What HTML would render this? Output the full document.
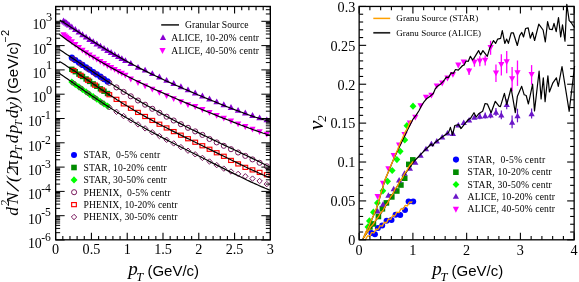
<!DOCTYPE html>
<html><head><meta charset="utf-8"><title>chart</title>
<style>html,body{margin:0;padding:0;background:#fff;}svg{display:block;position:absolute;left:0;top:0;}svg{will-change:transform;}text{fill:#000;}</style></head>
<body>
<svg width="579" height="282" viewBox="0 0 579 282">
<rect x="0" y="0" width="579" height="282" fill="#fff"/>
<polygon points="63.5,17.5 66.8,23.4 60.2,23.4" fill="#8A00D4"/>
<polygon points="65.0,18.5 68.3,24.4 61.7,24.4" fill="#8A00D4"/>
<polygon points="66.4,19.6 69.7,25.5 63.1,25.5" fill="#8A00D4"/>
<polygon points="67.8,20.6 71.1,26.5 64.5,26.5" fill="#8A00D4"/>
<polygon points="69.2,21.7 72.5,27.6 65.9,27.6" fill="#8A00D4"/>
<polygon points="71.8,23.5 75.1,29.4 68.5,29.4" fill="#8A00D4"/>
<polygon points="75.3,26.1 78.6,32.0 72.0,32.0" fill="#8A00D4"/>
<polygon points="78.9,28.7 82.2,34.6 75.6,34.6" fill="#8A00D4"/>
<polygon points="82.5,31.3 85.8,37.2 79.2,37.2" fill="#8A00D4"/>
<polygon points="86.1,33.7 89.4,39.6 82.8,39.6" fill="#8A00D4"/>
<polygon points="89.6,36.0 92.9,41.9 86.3,41.9" fill="#8A00D4"/>
<polygon points="93.2,38.2 96.5,44.1 89.9,44.1" fill="#8A00D4"/>
<polygon points="96.8,40.5 100.1,46.4 93.5,46.4" fill="#8A00D4"/>
<polygon points="100.4,42.7 103.7,48.6 97.1,48.6" fill="#8A00D4"/>
<polygon points="104.0,44.9 107.3,50.8 100.7,50.8" fill="#8A00D4"/>
<polygon points="107.5,47.0 110.8,52.9 104.2,52.9" fill="#8A00D4"/>
<polygon points="111.1,49.1 114.4,55.0 107.8,55.0" fill="#8A00D4"/>
<polygon points="114.7,51.2 118.0,57.1 111.4,57.1" fill="#8A00D4"/>
<polygon points="118.3,53.2 121.6,59.1 115.0,59.1" fill="#8A00D4"/>
<polygon points="121.8,55.2 125.1,61.1 118.5,61.1" fill="#8A00D4"/>
<polygon points="125.4,57.2 128.7,63.1 122.1,63.1" fill="#8A00D4"/>
<polygon points="130.8,60.1 134.1,66.0 127.5,66.0" fill="#8A00D4"/>
<polygon points="138.0,63.9 141.3,69.8 134.7,69.8" fill="#8A00D4"/>
<polygon points="145.1,66.7 148.4,72.6 141.8,72.6" fill="#8A00D4"/>
<polygon points="152.3,70.2 155.6,76.1 149.0,76.1" fill="#8A00D4"/>
<polygon points="159.4,73.6 162.7,79.5 156.1,79.5" fill="#8A00D4"/>
<polygon points="166.6,76.9 169.9,82.8 163.3,82.8" fill="#8A00D4"/>
<polygon points="173.7,80.1 177.0,86.0 170.4,86.0" fill="#8A00D4"/>
<polygon points="180.9,83.3 184.2,89.2 177.6,89.2" fill="#8A00D4"/>
<polygon points="188.0,86.4 191.3,92.3 184.7,92.3" fill="#8A00D4"/>
<polygon points="195.2,89.5 198.5,95.4 191.9,95.4" fill="#8A00D4"/>
<polygon points="202.4,92.5 205.7,98.4 199.1,98.4" fill="#8A00D4"/>
<polygon points="209.5,95.5 212.8,101.4 206.2,101.4" fill="#8A00D4"/>
<polygon points="216.7,98.4 220.0,104.3 213.4,104.3" fill="#8A00D4"/>
<polygon points="223.8,101.3 227.1,107.2 220.5,107.2" fill="#8A00D4"/>
<polygon points="231.0,104.1 234.3,110.0 227.7,110.0" fill="#8A00D4"/>
<polygon points="238.1,106.9 241.4,112.8 234.8,112.8" fill="#8A00D4"/>
<polygon points="245.3,109.5 248.6,115.4 242.0,115.4" fill="#8A00D4"/>
<polygon points="252.5,112.0 255.8,117.9 249.2,117.9" fill="#8A00D4"/>
<polygon points="259.6,114.4 262.9,120.3 256.3,120.3" fill="#8A00D4"/>
<polygon points="266.8,116.4 270.1,122.3 263.5,122.3" fill="#8A00D4"/>
<polygon points="63.5,38.1 66.6,32.3 60.4,32.3" fill="#FF00FF"/>
<polygon points="65.0,39.3 68.1,33.5 61.9,33.5" fill="#FF00FF"/>
<polygon points="66.4,40.5 69.5,34.7 63.3,34.7" fill="#FF00FF"/>
<polygon points="67.8,41.7 70.9,35.9 64.7,35.9" fill="#FF00FF"/>
<polygon points="69.2,42.9 72.3,37.1 66.1,37.1" fill="#FF00FF"/>
<polygon points="71.8,45.0 74.9,39.2 68.7,39.2" fill="#FF00FF"/>
<polygon points="75.3,47.9 78.4,42.1 72.2,42.1" fill="#FF00FF"/>
<polygon points="78.9,50.7 82.0,44.9 75.8,44.9" fill="#FF00FF"/>
<polygon points="82.5,53.5 85.6,47.7 79.4,47.7" fill="#FF00FF"/>
<polygon points="86.1,56.0 89.2,50.2 83.0,50.2" fill="#FF00FF"/>
<polygon points="89.6,58.3 92.7,52.5 86.5,52.5" fill="#FF00FF"/>
<polygon points="93.2,60.5 96.3,54.7 90.1,54.7" fill="#FF00FF"/>
<polygon points="96.8,62.6 99.9,56.8 93.7,56.8" fill="#FF00FF"/>
<polygon points="100.4,64.8 103.5,59.0 97.3,59.0" fill="#FF00FF"/>
<polygon points="104.0,66.8 107.1,61.0 100.9,61.0" fill="#FF00FF"/>
<polygon points="107.5,68.9 110.6,63.1 104.4,63.1" fill="#FF00FF"/>
<polygon points="111.1,70.9 114.2,65.1 108.0,65.1" fill="#FF00FF"/>
<polygon points="114.7,72.8 117.8,67.0 111.6,67.0" fill="#FF00FF"/>
<polygon points="118.3,74.7 121.4,68.9 115.2,68.9" fill="#FF00FF"/>
<polygon points="121.8,76.6 124.9,70.8 118.7,70.8" fill="#FF00FF"/>
<polygon points="125.4,78.5 128.5,72.7 122.3,72.7" fill="#FF00FF"/>
<polygon points="130.8,82.4 133.9,76.6 127.7,76.6" fill="#FF00FF"/>
<polygon points="138.0,85.9 141.1,80.1 134.9,80.1" fill="#FF00FF"/>
<polygon points="145.1,89.3 148.2,83.5 142.0,83.5" fill="#FF00FF"/>
<polygon points="152.3,92.6 155.4,86.8 149.2,86.8" fill="#FF00FF"/>
<polygon points="159.4,95.8 162.5,90.0 156.3,90.0" fill="#FF00FF"/>
<polygon points="166.6,99.0 169.7,93.2 163.5,93.2" fill="#FF00FF"/>
<polygon points="173.7,102.1 176.8,96.3 170.6,96.3" fill="#FF00FF"/>
<polygon points="180.9,105.1 184.0,99.3 177.8,99.3" fill="#FF00FF"/>
<polygon points="188.0,108.1 191.1,102.3 184.9,102.3" fill="#FF00FF"/>
<polygon points="195.2,109.9 198.3,104.1 192.1,104.1" fill="#FF00FF"/>
<polygon points="202.4,112.9 205.5,107.1 199.3,107.1" fill="#FF00FF"/>
<polygon points="209.5,115.8 212.6,110.0 206.4,110.0" fill="#FF00FF"/>
<polygon points="216.7,118.7 219.8,112.9 213.6,112.9" fill="#FF00FF"/>
<polygon points="223.8,121.6 226.9,115.8 220.7,115.8" fill="#FF00FF"/>
<polygon points="231.0,124.4 234.1,118.6 227.9,118.6" fill="#FF00FF"/>
<polygon points="238.1,127.2 241.2,121.4 235.0,121.4" fill="#FF00FF"/>
<polygon points="245.3,129.9 248.4,124.1 242.2,124.1" fill="#FF00FF"/>
<polygon points="252.5,132.5 255.6,126.7 249.4,126.7" fill="#FF00FF"/>
<polygon points="259.6,135.1 262.7,129.3 256.5,129.3" fill="#FF00FF"/>
<polygon points="266.8,137.5 269.9,131.7 263.7,131.7" fill="#FF00FF"/>
<circle cx="71.8" cy="57.7" r="3.1" fill="#0000FF"/>
<circle cx="75.3" cy="60.1" r="3.1" fill="#0000FF"/>
<circle cx="78.9" cy="62.5" r="3.1" fill="#0000FF"/>
<circle cx="82.5" cy="64.9" r="3.1" fill="#0000FF"/>
<circle cx="86.1" cy="67.3" r="3.1" fill="#0000FF"/>
<circle cx="89.6" cy="69.6" r="3.1" fill="#0000FF"/>
<circle cx="93.2" cy="72.0" r="3.1" fill="#0000FF"/>
<circle cx="96.8" cy="74.4" r="3.1" fill="#0000FF"/>
<circle cx="100.4" cy="76.7" r="3.1" fill="#0000FF"/>
<circle cx="104.0" cy="79.1" r="3.1" fill="#0000FF"/>
<circle cx="107.5" cy="81.4" r="3.1" fill="#0000FF"/>
<rect x="69.1" y="66.6" width="5.4" height="5.4" fill="#008B00"/>
<rect x="72.6" y="69.0" width="5.4" height="5.4" fill="#008B00"/>
<rect x="76.2" y="71.4" width="5.4" height="5.4" fill="#008B00"/>
<rect x="79.8" y="73.8" width="5.4" height="5.4" fill="#008B00"/>
<rect x="83.4" y="76.3" width="5.4" height="5.4" fill="#008B00"/>
<rect x="86.9" y="78.7" width="5.4" height="5.4" fill="#008B00"/>
<rect x="90.5" y="81.2" width="5.4" height="5.4" fill="#008B00"/>
<rect x="94.1" y="83.6" width="5.4" height="5.4" fill="#008B00"/>
<rect x="97.7" y="86.1" width="5.4" height="5.4" fill="#008B00"/>
<rect x="101.3" y="88.5" width="5.4" height="5.4" fill="#008B00"/>
<rect x="104.8" y="90.8" width="5.4" height="5.4" fill="#008B00"/>
<polygon points="71.8,78.4 75.2,82.0 71.8,85.6 68.4,82.0" fill="#00FF00"/>
<polygon points="75.3,80.9 78.7,84.5 75.3,88.1 71.9,84.5" fill="#00FF00"/>
<polygon points="78.9,83.3 82.3,86.9 78.9,90.5 75.5,86.9" fill="#00FF00"/>
<polygon points="82.5,85.8 85.9,89.4 82.5,93.0 79.1,89.4" fill="#00FF00"/>
<polygon points="86.1,88.3 89.5,91.9 86.1,95.5 82.7,91.9" fill="#00FF00"/>
<polygon points="89.6,90.7 93.0,94.3 89.6,97.9 86.2,94.3" fill="#00FF00"/>
<polygon points="93.2,93.1 96.6,96.7 93.2,100.3 89.8,96.7" fill="#00FF00"/>
<polygon points="96.8,95.5 100.2,99.1 96.8,102.7 93.4,99.1" fill="#00FF00"/>
<polygon points="100.4,97.9 103.8,101.5 100.4,105.1 97.0,101.5" fill="#00FF00"/>
<polygon points="104.0,100.2 107.4,103.8 104.0,107.4 100.6,103.8" fill="#00FF00"/>
<polygon points="107.5,102.5 110.9,106.1 107.5,109.7 104.1,106.1" fill="#00FF00"/>
<circle cx="73.5" cy="59.2" r="2.55" fill="none" stroke="#7A1A5E" stroke-width="1.0"/>
<circle cx="80.7" cy="64.0" r="2.55" fill="none" stroke="#7A1A5E" stroke-width="1.0"/>
<circle cx="87.9" cy="68.8" r="2.55" fill="none" stroke="#7A1A5E" stroke-width="1.0"/>
<circle cx="95.0" cy="73.5" r="2.55" fill="none" stroke="#7A1A5E" stroke-width="1.0"/>
<circle cx="102.2" cy="78.2" r="2.55" fill="none" stroke="#7A1A5E" stroke-width="1.0"/>
<circle cx="109.3" cy="82.8" r="2.55" fill="none" stroke="#7A1A5E" stroke-width="1.0"/>
<circle cx="116.5" cy="87.4" r="2.55" fill="none" stroke="#7A1A5E" stroke-width="1.0"/>
<circle cx="123.6" cy="91.9" r="2.55" fill="none" stroke="#7A1A5E" stroke-width="1.0"/>
<circle cx="130.8" cy="96.3" r="2.55" fill="none" stroke="#7A1A5E" stroke-width="1.0"/>
<circle cx="138.0" cy="100.5" r="2.55" fill="none" stroke="#7A1A5E" stroke-width="1.0"/>
<circle cx="145.1" cy="104.7" r="2.55" fill="none" stroke="#7A1A5E" stroke-width="1.0"/>
<circle cx="152.3" cy="108.8" r="2.55" fill="none" stroke="#7A1A5E" stroke-width="1.0"/>
<circle cx="159.4" cy="112.8" r="2.55" fill="none" stroke="#7A1A5E" stroke-width="1.0"/>
<circle cx="166.6" cy="116.7" r="2.55" fill="none" stroke="#7A1A5E" stroke-width="1.0"/>
<circle cx="173.7" cy="120.5" r="2.55" fill="none" stroke="#7A1A5E" stroke-width="1.0"/>
<circle cx="180.9" cy="124.2" r="2.55" fill="none" stroke="#7A1A5E" stroke-width="1.0"/>
<circle cx="188.0" cy="127.8" r="2.55" fill="none" stroke="#7A1A5E" stroke-width="1.0"/>
<circle cx="195.2" cy="131.4" r="2.55" fill="none" stroke="#7A1A5E" stroke-width="1.0"/>
<circle cx="202.4" cy="134.9" r="2.55" fill="none" stroke="#7A1A5E" stroke-width="1.0"/>
<circle cx="209.5" cy="139.0" r="2.55" fill="none" stroke="#7A1A5E" stroke-width="1.0"/>
<circle cx="216.7" cy="142.4" r="2.55" fill="none" stroke="#7A1A5E" stroke-width="1.0"/>
<circle cx="223.8" cy="145.8" r="2.55" fill="none" stroke="#7A1A5E" stroke-width="1.0"/>
<circle cx="231.0" cy="149.2" r="2.55" fill="none" stroke="#7A1A5E" stroke-width="1.0"/>
<circle cx="238.1" cy="152.5" r="2.55" fill="none" stroke="#7A1A5E" stroke-width="1.0"/>
<circle cx="245.3" cy="155.9" r="2.55" fill="none" stroke="#7A1A5E" stroke-width="1.0"/>
<circle cx="252.5" cy="159.4" r="2.55" fill="none" stroke="#7A1A5E" stroke-width="1.0"/>
<circle cx="259.6" cy="162.8" r="2.55" fill="none" stroke="#7A1A5E" stroke-width="1.0"/>
<circle cx="266.8" cy="166.3" r="2.55" fill="none" stroke="#7A1A5E" stroke-width="1.0"/>
<rect x="71.19" y="68.42" width="4.7" height="4.1" fill="none" stroke="#FF0000" stroke-width="1.15"/>
<rect x="78.35" y="73.26" width="4.7" height="4.1" fill="none" stroke="#FF0000" stroke-width="1.15"/>
<rect x="85.51" y="78.16" width="4.7" height="4.1" fill="none" stroke="#FF0000" stroke-width="1.15"/>
<rect x="92.66" y="83.07" width="4.7" height="4.1" fill="none" stroke="#FF0000" stroke-width="1.15"/>
<rect x="99.82" y="87.91" width="4.7" height="4.1" fill="none" stroke="#FF0000" stroke-width="1.15"/>
<rect x="106.98" y="92.67" width="4.7" height="4.1" fill="none" stroke="#FF0000" stroke-width="1.15"/>
<rect x="114.13" y="97.31" width="4.7" height="4.1" fill="none" stroke="#FF0000" stroke-width="1.15"/>
<rect x="121.29" y="101.81" width="4.7" height="4.1" fill="none" stroke="#FF0000" stroke-width="1.15"/>
<rect x="128.45" y="106.17" width="4.7" height="4.1" fill="none" stroke="#FF0000" stroke-width="1.15"/>
<rect x="135.60" y="110.37" width="4.7" height="4.1" fill="none" stroke="#FF0000" stroke-width="1.15"/>
<rect x="142.76" y="114.44" width="4.7" height="4.1" fill="none" stroke="#FF0000" stroke-width="1.15"/>
<rect x="149.92" y="118.38" width="4.7" height="4.1" fill="none" stroke="#FF0000" stroke-width="1.15"/>
<rect x="157.07" y="122.19" width="4.7" height="4.1" fill="none" stroke="#FF0000" stroke-width="1.15"/>
<rect x="164.23" y="125.91" width="4.7" height="4.1" fill="none" stroke="#FF0000" stroke-width="1.15"/>
<rect x="171.39" y="129.55" width="4.7" height="4.1" fill="none" stroke="#FF0000" stroke-width="1.15"/>
<rect x="178.54" y="133.13" width="4.7" height="4.1" fill="none" stroke="#FF0000" stroke-width="1.15"/>
<rect x="185.70" y="136.67" width="4.7" height="4.1" fill="none" stroke="#FF0000" stroke-width="1.15"/>
<rect x="192.86" y="140.19" width="4.7" height="4.1" fill="none" stroke="#FF0000" stroke-width="1.15"/>
<rect x="200.01" y="143.70" width="4.7" height="4.1" fill="none" stroke="#FF0000" stroke-width="1.15"/>
<rect x="207.17" y="147.21" width="4.7" height="4.1" fill="none" stroke="#FF0000" stroke-width="1.15"/>
<rect x="214.33" y="150.72" width="4.7" height="4.1" fill="none" stroke="#FF0000" stroke-width="1.15"/>
<rect x="221.48" y="154.25" width="4.7" height="4.1" fill="none" stroke="#FF0000" stroke-width="1.15"/>
<rect x="228.64" y="158.37" width="4.7" height="4.1" fill="none" stroke="#FF0000" stroke-width="1.15"/>
<rect x="235.80" y="161.87" width="4.7" height="4.1" fill="none" stroke="#FF0000" stroke-width="1.15"/>
<rect x="242.95" y="165.32" width="4.7" height="4.1" fill="none" stroke="#FF0000" stroke-width="1.15"/>
<rect x="250.11" y="167.85" width="4.7" height="4.1" fill="none" stroke="#FF0000" stroke-width="1.15"/>
<rect x="257.26" y="170.36" width="4.7" height="4.1" fill="none" stroke="#FF0000" stroke-width="1.15"/>
<rect x="264.42" y="172.67" width="4.7" height="4.1" fill="none" stroke="#FF0000" stroke-width="1.15"/>
<polygon points="73.5,80.5 76.2,83.2 73.5,85.9 70.8,83.2" fill="none" stroke="#7A1A5E" stroke-width="1.0"/>
<polygon points="80.7,85.5 83.4,88.2 80.7,90.9 78.0,88.2" fill="none" stroke="#7A1A5E" stroke-width="1.0"/>
<polygon points="87.9,90.4 90.6,93.1 87.9,95.8 85.2,93.1" fill="none" stroke="#7A1A5E" stroke-width="1.0"/>
<polygon points="95.0,95.2 97.7,97.9 95.0,100.6 92.3,97.9" fill="none" stroke="#7A1A5E" stroke-width="1.0"/>
<polygon points="102.2,100.0 104.9,102.7 102.2,105.4 99.5,102.7" fill="none" stroke="#7A1A5E" stroke-width="1.0"/>
<polygon points="109.3,104.6 112.0,107.3 109.3,110.0 106.6,107.3" fill="none" stroke="#7A1A5E" stroke-width="1.0"/>
<polygon points="116.5,109.1 119.2,111.8 116.5,114.5 113.8,111.8" fill="none" stroke="#7A1A5E" stroke-width="1.0"/>
<polygon points="123.6,113.4 126.3,116.1 123.6,118.8 120.9,116.1" fill="none" stroke="#7A1A5E" stroke-width="1.0"/>
<polygon points="130.8,117.6 133.5,120.3 130.8,123.0 128.1,120.3" fill="none" stroke="#7A1A5E" stroke-width="1.0"/>
<polygon points="138.0,121.7 140.7,124.4 138.0,127.1 135.3,124.4" fill="none" stroke="#7A1A5E" stroke-width="1.0"/>
<polygon points="145.1,125.7 147.8,128.4 145.1,131.1 142.4,128.4" fill="none" stroke="#7A1A5E" stroke-width="1.0"/>
<polygon points="152.3,129.6 155.0,132.3 152.3,135.0 149.6,132.3" fill="none" stroke="#7A1A5E" stroke-width="1.0"/>
<polygon points="159.4,133.3 162.1,136.0 159.4,138.7 156.7,136.0" fill="none" stroke="#7A1A5E" stroke-width="1.0"/>
<polygon points="166.6,137.1 169.3,139.8 166.6,142.5 163.9,139.8" fill="none" stroke="#7A1A5E" stroke-width="1.0"/>
<polygon points="173.7,140.7 176.4,143.4 173.7,146.1 171.0,143.4" fill="none" stroke="#7A1A5E" stroke-width="1.0"/>
<polygon points="180.9,144.4 183.6,147.1 180.9,149.8 178.2,147.1" fill="none" stroke="#7A1A5E" stroke-width="1.0"/>
<polygon points="188.0,148.0 190.7,150.7 188.0,153.4 185.3,150.7" fill="none" stroke="#7A1A5E" stroke-width="1.0"/>
<polygon points="195.2,151.6 197.9,154.3 195.2,157.0 192.5,154.3" fill="none" stroke="#7A1A5E" stroke-width="1.0"/>
<polygon points="202.4,155.2 205.1,157.9 202.4,160.6 199.7,157.9" fill="none" stroke="#7A1A5E" stroke-width="1.0"/>
<polygon points="209.5,158.8 212.2,161.5 209.5,164.2 206.8,161.5" fill="none" stroke="#7A1A5E" stroke-width="1.0"/>
<polygon points="216.7,162.4 219.4,165.1 216.7,167.8 214.0,165.1" fill="none" stroke="#7A1A5E" stroke-width="1.0"/>
<polygon points="223.8,165.9 226.5,168.6 223.8,171.3 221.1,168.6" fill="none" stroke="#7A1A5E" stroke-width="1.0"/>
<polygon points="231.0,168.8 233.7,171.5 231.0,174.2 228.3,171.5" fill="none" stroke="#7A1A5E" stroke-width="1.0"/>
<polygon points="238.1,171.2 240.8,173.9 238.1,176.6 235.4,173.9" fill="none" stroke="#7A1A5E" stroke-width="1.0"/>
<polygon points="245.3,173.6 248.0,176.3 245.3,179.0 242.6,176.3" fill="none" stroke="#7A1A5E" stroke-width="1.0"/>
<polygon points="252.5,175.9 255.2,178.6 252.5,181.3 249.8,178.6" fill="none" stroke="#7A1A5E" stroke-width="1.0"/>
<polygon points="259.6,178.3 262.3,181.0 259.6,183.7 256.9,181.0" fill="none" stroke="#7A1A5E" stroke-width="1.0"/>
<polygon points="266.8,181.4 269.5,184.1 266.8,186.8 264.1,184.1" fill="none" stroke="#7A1A5E" stroke-width="1.0"/>
<polyline points="59.7,19.9 61.7,21.2 63.7,22.5 65.7,23.8 67.7,25.1 69.7,26.4 71.7,27.7 73.7,29.0 75.7,30.3 77.7,31.6 79.7,32.9 81.7,34.2 83.7,35.5 85.7,36.8 87.7,38.1 89.7,39.4 91.7,40.6 93.7,41.9 95.7,43.1 97.7,44.4 99.7,45.6 101.7,46.8 103.7,48.0 105.7,49.2 107.7,50.4 109.7,51.6 111.7,52.8 113.7,54.0 115.7,55.1 117.7,56.3 119.7,57.4 121.7,58.5 123.7,59.6 125.7,60.7 127.7,61.8 129.7,62.9 131.7,63.9 133.7,65.0 135.7,66.0 137.7,67.1 139.7,68.1 141.7,69.1 143.7,70.1 145.7,71.1 147.7,72.1 149.7,73.1 151.7,74.1 153.7,75.0 155.7,76.0 157.7,76.9 159.7,77.9 161.7,78.8 163.7,79.7 165.7,80.7 167.7,81.6 169.7,82.5 171.7,83.4 173.7,84.3 175.7,85.2 177.7,86.0 179.7,86.9 181.7,87.8 183.7,88.7 185.7,89.5 187.7,90.4 189.7,91.3 191.7,92.1 193.7,93.0 195.7,93.8 197.7,94.7 199.7,95.5 201.7,96.3 203.7,97.2 205.7,98.0 207.7,98.9 209.7,99.7 211.7,100.5 213.7,101.3 215.7,102.1 217.7,103.0 219.7,103.8 221.7,104.6 223.7,105.4 225.7,106.2 227.7,107.0 229.7,107.8 231.7,108.5 233.7,109.3 235.7,110.1 237.7,110.8 239.7,111.6 241.7,112.3 243.7,113.1 245.7,113.8 247.7,114.5 249.7,115.2 251.7,115.9 253.7,116.6 255.7,117.3 257.7,117.9 259.7,118.5 261.7,119.1 263.7,119.7 265.7,120.3 267.7,120.9 269.7,121.4 270.2,121.5" fill="none" stroke="#000" stroke-width="1.2" stroke-linejoin="round" stroke-linecap="butt"/>
<polyline points="59.3,34.3 61.3,35.8 63.3,37.3 65.3,38.7 67.3,40.2 69.3,41.6 71.3,43.0 73.3,44.4 75.3,45.7 77.3,47.1 79.3,48.4 81.3,49.7 83.3,51.0 85.3,52.3 87.3,53.6 89.3,54.9 91.3,56.1 93.3,57.3 95.3,58.5 97.3,59.7 99.3,60.9 101.3,62.1 103.3,63.3 105.3,64.4 107.3,65.5 109.3,66.7 111.3,67.8 113.3,68.9 115.3,69.9 117.3,71.0 119.3,72.1 121.3,73.1 123.3,74.2 125.3,75.2 127.3,76.2 129.3,77.2 131.3,78.2 133.3,79.2 135.3,80.2 137.3,81.2 139.3,82.1 141.3,83.1 143.3,84.0 145.3,85.0 147.3,85.9 149.3,86.8 151.3,87.8 153.3,88.7 155.3,89.6 157.3,90.5 159.3,91.4 161.3,92.3 163.3,93.1 165.3,94.0 167.3,94.9 169.3,95.8 171.3,96.6 173.3,97.5 175.3,98.3 177.3,99.2 179.3,100.1 181.3,100.9 183.3,101.7 185.3,102.6 187.3,103.4 189.3,104.3 191.3,105.1 193.3,105.9 195.3,106.8 197.3,107.6 199.3,108.4 201.3,109.2 203.3,110.1 205.3,110.9 207.3,111.7 209.3,112.5 211.3,113.3 213.3,114.1 215.3,114.9 217.3,115.7 219.3,116.6 221.3,117.4 223.3,118.2 225.3,118.9 227.3,119.7 229.3,120.5 231.3,121.3 233.3,122.1 235.3,122.9 237.3,123.7 239.3,124.4 241.3,125.2 243.3,125.9 245.3,126.7 247.3,127.4 249.3,128.2 251.3,128.9 253.3,129.7 255.3,130.4 257.3,131.1 259.3,131.8 261.3,132.5 263.3,133.2 265.3,133.8 267.3,134.5 269.3,135.1 270.2,135.4" fill="none" stroke="#000" stroke-width="1.2" stroke-linejoin="round" stroke-linecap="butt"/>
<polyline points="59.3,49.5 61.3,50.8 63.3,52.1 65.3,53.4 67.3,54.8 69.3,56.1 71.3,57.4 73.3,58.8 75.3,60.1 77.3,61.4 79.3,62.8 81.3,64.1 83.3,65.4 85.3,66.8 87.3,68.1 89.3,69.4 91.3,70.7 93.3,72.1 95.3,73.4 97.3,74.7 99.3,76.0 101.3,77.3 103.3,78.6 105.3,79.9 107.3,81.2 109.3,82.5 111.3,83.8 113.3,85.1 115.3,86.4 117.3,87.6 119.3,88.9 121.3,90.1 123.3,91.4 125.3,92.6 127.3,93.8 129.3,95.1 131.3,96.3 133.3,97.5 135.3,98.7 137.3,99.9 139.3,101.0 141.3,102.2 143.3,103.4 145.3,104.5 147.3,105.7 149.3,106.8 151.3,108.0 153.3,109.1 155.3,110.2 157.3,111.3 159.3,112.4 161.3,113.5 163.3,114.6 165.3,115.7 167.3,116.8 169.3,117.9 171.3,118.9 173.3,120.0 175.3,121.0 177.3,122.1 179.3,123.1 181.3,124.1 183.3,125.1 185.3,126.2 187.3,127.2 189.3,128.2 191.3,129.2 193.3,130.2 195.3,131.1 197.3,132.1 199.3,133.1 201.3,134.1 203.3,135.1 205.3,136.0 207.3,137.0 209.3,138.0 211.3,138.9 213.3,139.9 215.3,140.8 217.3,141.8 219.3,142.7 221.3,143.7 223.3,144.6 225.3,145.6 227.3,146.5 229.3,147.5 231.3,148.4 233.3,149.3 235.3,150.3 237.3,151.2 239.3,152.2 241.3,153.1 243.3,154.1 245.3,155.0 247.3,156.0 249.3,156.9 251.3,157.9 253.3,158.9 255.3,159.8 257.3,160.8 259.3,161.8 261.3,162.8 263.3,163.7 265.3,164.7 267.3,165.7 269.3,166.7 270.2,167.2" fill="none" stroke="#000" stroke-width="1.2" stroke-linejoin="round" stroke-linecap="butt"/>
<polyline points="59.3,61.4 61.3,62.6 63.3,63.8 65.3,65.1 67.3,66.4 69.3,67.7 71.3,69.0 73.3,70.3 75.3,71.6 77.3,73.0 79.3,74.4 81.3,75.7 83.3,77.1 85.3,78.5 87.3,79.8 89.3,81.2 91.3,82.6 93.3,83.9 95.3,85.3 97.3,86.7 99.3,88.0 101.3,89.4 103.3,90.7 105.3,92.1 107.3,93.4 109.3,94.7 111.3,96.0 113.3,97.3 115.3,98.6 117.3,99.9 119.3,101.1 121.3,102.4 123.3,103.7 125.3,104.9 127.3,106.1 129.3,107.3 131.3,108.5 133.3,109.7 135.3,110.9 137.3,112.0 139.3,113.2 141.3,114.3 143.3,115.5 145.3,116.6 147.3,117.7 149.3,118.8 151.3,119.9 153.3,121.0 155.3,122.1 157.3,123.1 159.3,124.2 161.3,125.2 163.3,126.3 165.3,127.3 167.3,128.3 169.3,129.4 171.3,130.4 173.3,131.4 175.3,132.4 177.3,133.4 179.3,134.4 181.3,135.4 183.3,136.4 185.3,137.4 187.3,138.4 189.3,139.3 191.3,140.3 193.3,141.3 195.3,142.3 197.3,143.3 199.3,144.2 201.3,145.2 203.3,146.2 205.3,147.2 207.3,148.2 209.3,149.1 211.3,150.1 213.3,151.1 215.3,152.1 217.3,153.1 219.3,154.1 221.3,155.1 223.3,156.0 225.3,157.0 227.3,158.0 229.3,159.0 231.3,160.0 233.3,161.0 235.3,161.9 237.3,162.9 239.3,163.9 241.3,164.9 243.3,165.8 245.3,166.8 247.3,167.7 249.3,168.7 251.3,169.6 253.3,170.5 255.3,171.4 257.3,172.3 259.3,173.2 261.3,174.1 263.3,175.0 265.3,175.8 267.3,176.6 269.3,177.4 270.2,177.8" fill="none" stroke="#000" stroke-width="1.2" stroke-linejoin="round" stroke-linecap="butt"/>
<polyline points="59.3,73.3 61.3,74.7 63.3,76.1 65.3,77.4 67.3,78.8 69.3,80.2 71.3,81.6 73.3,83.0 75.3,84.4 77.3,85.8 79.3,87.2 81.3,88.6 83.3,90.0 85.3,91.4 87.3,92.7 89.3,94.1 91.3,95.5 93.3,96.8 95.3,98.1 97.3,99.5 99.3,100.8 101.3,102.1 103.3,103.4 105.3,104.7 107.3,106.0 109.3,107.3 111.3,108.5 113.3,109.8 115.3,111.0 117.3,112.3 119.3,113.5 121.3,114.7 123.3,115.9 125.3,117.1 127.3,118.3 129.3,119.4 131.3,120.6 133.3,121.8 135.3,122.9 137.3,124.0 139.3,125.2 141.3,126.3 143.3,127.4 145.3,128.5 147.3,129.6 149.3,130.7 151.3,131.7 153.3,132.8 155.3,133.9 157.3,134.9 159.3,136.0 161.3,137.0 163.3,138.1 165.3,139.1 167.3,140.1 169.3,141.2 171.3,142.2 173.3,143.2 175.3,144.2 177.3,145.3 179.3,146.3 181.3,147.3 183.3,148.3 185.3,149.3 187.3,150.3 189.3,151.3 191.3,152.3 193.3,153.3 195.3,154.3 197.3,155.3 199.3,156.3 201.3,157.3 203.3,158.3 205.3,159.3 207.3,160.3 209.3,161.4 211.3,162.4 213.3,163.4 215.3,164.4 217.3,165.4 219.3,166.4 221.3,167.4 223.3,168.4 225.3,169.4 227.3,170.4 229.3,171.4 231.3,172.4 233.3,173.4 235.3,174.4 237.3,175.3 239.3,176.3 241.3,177.3 243.3,178.3 245.3,179.2 247.3,180.2 249.3,181.1 251.3,182.1 253.3,183.0 255.3,183.9 257.3,184.8 259.3,185.7 261.3,186.6 263.3,187.4 265.3,188.3 267.3,189.1 269.3,189.9 270.2,190.2" fill="none" stroke="#000" stroke-width="1.2" stroke-linejoin="round" stroke-linecap="butt"/>
<rect x="55.65" y="6.45" width="214.70" height="233.35" fill="none" stroke="#000" stroke-width="1.3"/>
<line x1="55.65" y1="239.80" x2="55.65" y2="232.80" stroke="#000" stroke-width="1.1"/>
<line x1="55.65" y1="6.45" x2="55.65" y2="13.45" stroke="#000" stroke-width="1.1"/>
<line x1="62.81" y1="239.80" x2="62.81" y2="236.00" stroke="#000" stroke-width="1.1"/>
<line x1="62.81" y1="6.45" x2="62.81" y2="10.25" stroke="#000" stroke-width="1.1"/>
<line x1="69.96" y1="239.80" x2="69.96" y2="236.00" stroke="#000" stroke-width="1.1"/>
<line x1="69.96" y1="6.45" x2="69.96" y2="10.25" stroke="#000" stroke-width="1.1"/>
<line x1="77.12" y1="239.80" x2="77.12" y2="236.00" stroke="#000" stroke-width="1.1"/>
<line x1="77.12" y1="6.45" x2="77.12" y2="10.25" stroke="#000" stroke-width="1.1"/>
<line x1="84.28" y1="239.80" x2="84.28" y2="236.00" stroke="#000" stroke-width="1.1"/>
<line x1="84.28" y1="6.45" x2="84.28" y2="10.25" stroke="#000" stroke-width="1.1"/>
<line x1="91.43" y1="239.80" x2="91.43" y2="232.80" stroke="#000" stroke-width="1.1"/>
<line x1="91.43" y1="6.45" x2="91.43" y2="13.45" stroke="#000" stroke-width="1.1"/>
<line x1="98.59" y1="239.80" x2="98.59" y2="236.00" stroke="#000" stroke-width="1.1"/>
<line x1="98.59" y1="6.45" x2="98.59" y2="10.25" stroke="#000" stroke-width="1.1"/>
<line x1="105.75" y1="239.80" x2="105.75" y2="236.00" stroke="#000" stroke-width="1.1"/>
<line x1="105.75" y1="6.45" x2="105.75" y2="10.25" stroke="#000" stroke-width="1.1"/>
<line x1="112.90" y1="239.80" x2="112.90" y2="236.00" stroke="#000" stroke-width="1.1"/>
<line x1="112.90" y1="6.45" x2="112.90" y2="10.25" stroke="#000" stroke-width="1.1"/>
<line x1="120.06" y1="239.80" x2="120.06" y2="236.00" stroke="#000" stroke-width="1.1"/>
<line x1="120.06" y1="6.45" x2="120.06" y2="10.25" stroke="#000" stroke-width="1.1"/>
<line x1="127.22" y1="239.80" x2="127.22" y2="232.80" stroke="#000" stroke-width="1.1"/>
<line x1="127.22" y1="6.45" x2="127.22" y2="13.45" stroke="#000" stroke-width="1.1"/>
<line x1="134.37" y1="239.80" x2="134.37" y2="236.00" stroke="#000" stroke-width="1.1"/>
<line x1="134.37" y1="6.45" x2="134.37" y2="10.25" stroke="#000" stroke-width="1.1"/>
<line x1="141.53" y1="239.80" x2="141.53" y2="236.00" stroke="#000" stroke-width="1.1"/>
<line x1="141.53" y1="6.45" x2="141.53" y2="10.25" stroke="#000" stroke-width="1.1"/>
<line x1="148.69" y1="239.80" x2="148.69" y2="236.00" stroke="#000" stroke-width="1.1"/>
<line x1="148.69" y1="6.45" x2="148.69" y2="10.25" stroke="#000" stroke-width="1.1"/>
<line x1="155.84" y1="239.80" x2="155.84" y2="236.00" stroke="#000" stroke-width="1.1"/>
<line x1="155.84" y1="6.45" x2="155.84" y2="10.25" stroke="#000" stroke-width="1.1"/>
<line x1="163.00" y1="239.80" x2="163.00" y2="232.80" stroke="#000" stroke-width="1.1"/>
<line x1="163.00" y1="6.45" x2="163.00" y2="13.45" stroke="#000" stroke-width="1.1"/>
<line x1="170.16" y1="239.80" x2="170.16" y2="236.00" stroke="#000" stroke-width="1.1"/>
<line x1="170.16" y1="6.45" x2="170.16" y2="10.25" stroke="#000" stroke-width="1.1"/>
<line x1="177.31" y1="239.80" x2="177.31" y2="236.00" stroke="#000" stroke-width="1.1"/>
<line x1="177.31" y1="6.45" x2="177.31" y2="10.25" stroke="#000" stroke-width="1.1"/>
<line x1="184.47" y1="239.80" x2="184.47" y2="236.00" stroke="#000" stroke-width="1.1"/>
<line x1="184.47" y1="6.45" x2="184.47" y2="10.25" stroke="#000" stroke-width="1.1"/>
<line x1="191.63" y1="239.80" x2="191.63" y2="236.00" stroke="#000" stroke-width="1.1"/>
<line x1="191.63" y1="6.45" x2="191.63" y2="10.25" stroke="#000" stroke-width="1.1"/>
<line x1="198.78" y1="239.80" x2="198.78" y2="232.80" stroke="#000" stroke-width="1.1"/>
<line x1="198.78" y1="6.45" x2="198.78" y2="13.45" stroke="#000" stroke-width="1.1"/>
<line x1="205.94" y1="239.80" x2="205.94" y2="236.00" stroke="#000" stroke-width="1.1"/>
<line x1="205.94" y1="6.45" x2="205.94" y2="10.25" stroke="#000" stroke-width="1.1"/>
<line x1="213.10" y1="239.80" x2="213.10" y2="236.00" stroke="#000" stroke-width="1.1"/>
<line x1="213.10" y1="6.45" x2="213.10" y2="10.25" stroke="#000" stroke-width="1.1"/>
<line x1="220.25" y1="239.80" x2="220.25" y2="236.00" stroke="#000" stroke-width="1.1"/>
<line x1="220.25" y1="6.45" x2="220.25" y2="10.25" stroke="#000" stroke-width="1.1"/>
<line x1="227.41" y1="239.80" x2="227.41" y2="236.00" stroke="#000" stroke-width="1.1"/>
<line x1="227.41" y1="6.45" x2="227.41" y2="10.25" stroke="#000" stroke-width="1.1"/>
<line x1="234.57" y1="239.80" x2="234.57" y2="232.80" stroke="#000" stroke-width="1.1"/>
<line x1="234.57" y1="6.45" x2="234.57" y2="13.45" stroke="#000" stroke-width="1.1"/>
<line x1="241.72" y1="239.80" x2="241.72" y2="236.00" stroke="#000" stroke-width="1.1"/>
<line x1="241.72" y1="6.45" x2="241.72" y2="10.25" stroke="#000" stroke-width="1.1"/>
<line x1="248.88" y1="239.80" x2="248.88" y2="236.00" stroke="#000" stroke-width="1.1"/>
<line x1="248.88" y1="6.45" x2="248.88" y2="10.25" stroke="#000" stroke-width="1.1"/>
<line x1="256.04" y1="239.80" x2="256.04" y2="236.00" stroke="#000" stroke-width="1.1"/>
<line x1="256.04" y1="6.45" x2="256.04" y2="10.25" stroke="#000" stroke-width="1.1"/>
<line x1="263.19" y1="239.80" x2="263.19" y2="236.00" stroke="#000" stroke-width="1.1"/>
<line x1="263.19" y1="6.45" x2="263.19" y2="10.25" stroke="#000" stroke-width="1.1"/>
<line x1="270.35" y1="239.80" x2="270.35" y2="232.80" stroke="#000" stroke-width="1.1"/>
<line x1="270.35" y1="6.45" x2="270.35" y2="13.45" stroke="#000" stroke-width="1.1"/>
<line x1="55.65" y1="240.00" x2="64.65" y2="240.00" stroke="#000" stroke-width="1.0"/>
<line x1="270.35" y1="240.00" x2="261.35" y2="240.00" stroke="#000" stroke-width="1.0"/>
<line x1="55.65" y1="232.68" x2="60.15" y2="232.68" stroke="#000" stroke-width="1.0"/>
<line x1="270.35" y1="232.68" x2="265.85" y2="232.68" stroke="#000" stroke-width="1.0"/>
<line x1="55.65" y1="228.41" x2="60.15" y2="228.41" stroke="#000" stroke-width="1.0"/>
<line x1="270.35" y1="228.41" x2="265.85" y2="228.41" stroke="#000" stroke-width="1.0"/>
<line x1="55.65" y1="225.37" x2="60.15" y2="225.37" stroke="#000" stroke-width="1.0"/>
<line x1="270.35" y1="225.37" x2="265.85" y2="225.37" stroke="#000" stroke-width="1.0"/>
<line x1="55.65" y1="223.02" x2="60.15" y2="223.02" stroke="#000" stroke-width="1.0"/>
<line x1="270.35" y1="223.02" x2="265.85" y2="223.02" stroke="#000" stroke-width="1.0"/>
<line x1="55.65" y1="221.09" x2="60.15" y2="221.09" stroke="#000" stroke-width="1.0"/>
<line x1="270.35" y1="221.09" x2="265.85" y2="221.09" stroke="#000" stroke-width="1.0"/>
<line x1="55.65" y1="219.46" x2="60.15" y2="219.46" stroke="#000" stroke-width="1.0"/>
<line x1="270.35" y1="219.46" x2="265.85" y2="219.46" stroke="#000" stroke-width="1.0"/>
<line x1="55.65" y1="218.05" x2="60.15" y2="218.05" stroke="#000" stroke-width="1.0"/>
<line x1="270.35" y1="218.05" x2="265.85" y2="218.05" stroke="#000" stroke-width="1.0"/>
<line x1="55.65" y1="216.81" x2="60.15" y2="216.81" stroke="#000" stroke-width="1.0"/>
<line x1="270.35" y1="216.81" x2="265.85" y2="216.81" stroke="#000" stroke-width="1.0"/>
<line x1="55.65" y1="215.70" x2="64.65" y2="215.70" stroke="#000" stroke-width="1.0"/>
<line x1="270.35" y1="215.70" x2="261.35" y2="215.70" stroke="#000" stroke-width="1.0"/>
<line x1="55.65" y1="208.38" x2="60.15" y2="208.38" stroke="#000" stroke-width="1.0"/>
<line x1="270.35" y1="208.38" x2="265.85" y2="208.38" stroke="#000" stroke-width="1.0"/>
<line x1="55.65" y1="204.11" x2="60.15" y2="204.11" stroke="#000" stroke-width="1.0"/>
<line x1="270.35" y1="204.11" x2="265.85" y2="204.11" stroke="#000" stroke-width="1.0"/>
<line x1="55.65" y1="201.07" x2="60.15" y2="201.07" stroke="#000" stroke-width="1.0"/>
<line x1="270.35" y1="201.07" x2="265.85" y2="201.07" stroke="#000" stroke-width="1.0"/>
<line x1="55.65" y1="198.72" x2="60.15" y2="198.72" stroke="#000" stroke-width="1.0"/>
<line x1="270.35" y1="198.72" x2="265.85" y2="198.72" stroke="#000" stroke-width="1.0"/>
<line x1="55.65" y1="196.79" x2="60.15" y2="196.79" stroke="#000" stroke-width="1.0"/>
<line x1="270.35" y1="196.79" x2="265.85" y2="196.79" stroke="#000" stroke-width="1.0"/>
<line x1="55.65" y1="195.16" x2="60.15" y2="195.16" stroke="#000" stroke-width="1.0"/>
<line x1="270.35" y1="195.16" x2="265.85" y2="195.16" stroke="#000" stroke-width="1.0"/>
<line x1="55.65" y1="193.75" x2="60.15" y2="193.75" stroke="#000" stroke-width="1.0"/>
<line x1="270.35" y1="193.75" x2="265.85" y2="193.75" stroke="#000" stroke-width="1.0"/>
<line x1="55.65" y1="192.51" x2="60.15" y2="192.51" stroke="#000" stroke-width="1.0"/>
<line x1="270.35" y1="192.51" x2="265.85" y2="192.51" stroke="#000" stroke-width="1.0"/>
<line x1="55.65" y1="191.40" x2="64.65" y2="191.40" stroke="#000" stroke-width="1.0"/>
<line x1="270.35" y1="191.40" x2="261.35" y2="191.40" stroke="#000" stroke-width="1.0"/>
<line x1="55.65" y1="184.08" x2="60.15" y2="184.08" stroke="#000" stroke-width="1.0"/>
<line x1="270.35" y1="184.08" x2="265.85" y2="184.08" stroke="#000" stroke-width="1.0"/>
<line x1="55.65" y1="179.81" x2="60.15" y2="179.81" stroke="#000" stroke-width="1.0"/>
<line x1="270.35" y1="179.81" x2="265.85" y2="179.81" stroke="#000" stroke-width="1.0"/>
<line x1="55.65" y1="176.77" x2="60.15" y2="176.77" stroke="#000" stroke-width="1.0"/>
<line x1="270.35" y1="176.77" x2="265.85" y2="176.77" stroke="#000" stroke-width="1.0"/>
<line x1="55.65" y1="174.42" x2="60.15" y2="174.42" stroke="#000" stroke-width="1.0"/>
<line x1="270.35" y1="174.42" x2="265.85" y2="174.42" stroke="#000" stroke-width="1.0"/>
<line x1="55.65" y1="172.49" x2="60.15" y2="172.49" stroke="#000" stroke-width="1.0"/>
<line x1="270.35" y1="172.49" x2="265.85" y2="172.49" stroke="#000" stroke-width="1.0"/>
<line x1="55.65" y1="170.86" x2="60.15" y2="170.86" stroke="#000" stroke-width="1.0"/>
<line x1="270.35" y1="170.86" x2="265.85" y2="170.86" stroke="#000" stroke-width="1.0"/>
<line x1="55.65" y1="169.45" x2="60.15" y2="169.45" stroke="#000" stroke-width="1.0"/>
<line x1="270.35" y1="169.45" x2="265.85" y2="169.45" stroke="#000" stroke-width="1.0"/>
<line x1="55.65" y1="168.21" x2="60.15" y2="168.21" stroke="#000" stroke-width="1.0"/>
<line x1="270.35" y1="168.21" x2="265.85" y2="168.21" stroke="#000" stroke-width="1.0"/>
<line x1="55.65" y1="167.10" x2="64.65" y2="167.10" stroke="#000" stroke-width="1.0"/>
<line x1="270.35" y1="167.10" x2="261.35" y2="167.10" stroke="#000" stroke-width="1.0"/>
<line x1="55.65" y1="159.78" x2="60.15" y2="159.78" stroke="#000" stroke-width="1.0"/>
<line x1="270.35" y1="159.78" x2="265.85" y2="159.78" stroke="#000" stroke-width="1.0"/>
<line x1="55.65" y1="155.51" x2="60.15" y2="155.51" stroke="#000" stroke-width="1.0"/>
<line x1="270.35" y1="155.51" x2="265.85" y2="155.51" stroke="#000" stroke-width="1.0"/>
<line x1="55.65" y1="152.47" x2="60.15" y2="152.47" stroke="#000" stroke-width="1.0"/>
<line x1="270.35" y1="152.47" x2="265.85" y2="152.47" stroke="#000" stroke-width="1.0"/>
<line x1="55.65" y1="150.12" x2="60.15" y2="150.12" stroke="#000" stroke-width="1.0"/>
<line x1="270.35" y1="150.12" x2="265.85" y2="150.12" stroke="#000" stroke-width="1.0"/>
<line x1="55.65" y1="148.19" x2="60.15" y2="148.19" stroke="#000" stroke-width="1.0"/>
<line x1="270.35" y1="148.19" x2="265.85" y2="148.19" stroke="#000" stroke-width="1.0"/>
<line x1="55.65" y1="146.56" x2="60.15" y2="146.56" stroke="#000" stroke-width="1.0"/>
<line x1="270.35" y1="146.56" x2="265.85" y2="146.56" stroke="#000" stroke-width="1.0"/>
<line x1="55.65" y1="145.15" x2="60.15" y2="145.15" stroke="#000" stroke-width="1.0"/>
<line x1="270.35" y1="145.15" x2="265.85" y2="145.15" stroke="#000" stroke-width="1.0"/>
<line x1="55.65" y1="143.91" x2="60.15" y2="143.91" stroke="#000" stroke-width="1.0"/>
<line x1="270.35" y1="143.91" x2="265.85" y2="143.91" stroke="#000" stroke-width="1.0"/>
<line x1="55.65" y1="142.80" x2="64.65" y2="142.80" stroke="#000" stroke-width="1.0"/>
<line x1="270.35" y1="142.80" x2="261.35" y2="142.80" stroke="#000" stroke-width="1.0"/>
<line x1="55.65" y1="135.48" x2="60.15" y2="135.48" stroke="#000" stroke-width="1.0"/>
<line x1="270.35" y1="135.48" x2="265.85" y2="135.48" stroke="#000" stroke-width="1.0"/>
<line x1="55.65" y1="131.21" x2="60.15" y2="131.21" stroke="#000" stroke-width="1.0"/>
<line x1="270.35" y1="131.21" x2="265.85" y2="131.21" stroke="#000" stroke-width="1.0"/>
<line x1="55.65" y1="128.17" x2="60.15" y2="128.17" stroke="#000" stroke-width="1.0"/>
<line x1="270.35" y1="128.17" x2="265.85" y2="128.17" stroke="#000" stroke-width="1.0"/>
<line x1="55.65" y1="125.82" x2="60.15" y2="125.82" stroke="#000" stroke-width="1.0"/>
<line x1="270.35" y1="125.82" x2="265.85" y2="125.82" stroke="#000" stroke-width="1.0"/>
<line x1="55.65" y1="123.89" x2="60.15" y2="123.89" stroke="#000" stroke-width="1.0"/>
<line x1="270.35" y1="123.89" x2="265.85" y2="123.89" stroke="#000" stroke-width="1.0"/>
<line x1="55.65" y1="122.26" x2="60.15" y2="122.26" stroke="#000" stroke-width="1.0"/>
<line x1="270.35" y1="122.26" x2="265.85" y2="122.26" stroke="#000" stroke-width="1.0"/>
<line x1="55.65" y1="120.85" x2="60.15" y2="120.85" stroke="#000" stroke-width="1.0"/>
<line x1="270.35" y1="120.85" x2="265.85" y2="120.85" stroke="#000" stroke-width="1.0"/>
<line x1="55.65" y1="119.61" x2="60.15" y2="119.61" stroke="#000" stroke-width="1.0"/>
<line x1="270.35" y1="119.61" x2="265.85" y2="119.61" stroke="#000" stroke-width="1.0"/>
<line x1="55.65" y1="118.50" x2="64.65" y2="118.50" stroke="#000" stroke-width="1.0"/>
<line x1="270.35" y1="118.50" x2="261.35" y2="118.50" stroke="#000" stroke-width="1.0"/>
<line x1="55.65" y1="111.18" x2="60.15" y2="111.18" stroke="#000" stroke-width="1.0"/>
<line x1="270.35" y1="111.18" x2="265.85" y2="111.18" stroke="#000" stroke-width="1.0"/>
<line x1="55.65" y1="106.91" x2="60.15" y2="106.91" stroke="#000" stroke-width="1.0"/>
<line x1="270.35" y1="106.91" x2="265.85" y2="106.91" stroke="#000" stroke-width="1.0"/>
<line x1="55.65" y1="103.87" x2="60.15" y2="103.87" stroke="#000" stroke-width="1.0"/>
<line x1="270.35" y1="103.87" x2="265.85" y2="103.87" stroke="#000" stroke-width="1.0"/>
<line x1="55.65" y1="101.52" x2="60.15" y2="101.52" stroke="#000" stroke-width="1.0"/>
<line x1="270.35" y1="101.52" x2="265.85" y2="101.52" stroke="#000" stroke-width="1.0"/>
<line x1="55.65" y1="99.59" x2="60.15" y2="99.59" stroke="#000" stroke-width="1.0"/>
<line x1="270.35" y1="99.59" x2="265.85" y2="99.59" stroke="#000" stroke-width="1.0"/>
<line x1="55.65" y1="97.96" x2="60.15" y2="97.96" stroke="#000" stroke-width="1.0"/>
<line x1="270.35" y1="97.96" x2="265.85" y2="97.96" stroke="#000" stroke-width="1.0"/>
<line x1="55.65" y1="96.55" x2="60.15" y2="96.55" stroke="#000" stroke-width="1.0"/>
<line x1="270.35" y1="96.55" x2="265.85" y2="96.55" stroke="#000" stroke-width="1.0"/>
<line x1="55.65" y1="95.31" x2="60.15" y2="95.31" stroke="#000" stroke-width="1.0"/>
<line x1="270.35" y1="95.31" x2="265.85" y2="95.31" stroke="#000" stroke-width="1.0"/>
<line x1="55.65" y1="94.20" x2="64.65" y2="94.20" stroke="#000" stroke-width="1.0"/>
<line x1="270.35" y1="94.20" x2="261.35" y2="94.20" stroke="#000" stroke-width="1.0"/>
<line x1="55.65" y1="86.88" x2="60.15" y2="86.88" stroke="#000" stroke-width="1.0"/>
<line x1="270.35" y1="86.88" x2="265.85" y2="86.88" stroke="#000" stroke-width="1.0"/>
<line x1="55.65" y1="82.61" x2="60.15" y2="82.61" stroke="#000" stroke-width="1.0"/>
<line x1="270.35" y1="82.61" x2="265.85" y2="82.61" stroke="#000" stroke-width="1.0"/>
<line x1="55.65" y1="79.57" x2="60.15" y2="79.57" stroke="#000" stroke-width="1.0"/>
<line x1="270.35" y1="79.57" x2="265.85" y2="79.57" stroke="#000" stroke-width="1.0"/>
<line x1="55.65" y1="77.22" x2="60.15" y2="77.22" stroke="#000" stroke-width="1.0"/>
<line x1="270.35" y1="77.22" x2="265.85" y2="77.22" stroke="#000" stroke-width="1.0"/>
<line x1="55.65" y1="75.29" x2="60.15" y2="75.29" stroke="#000" stroke-width="1.0"/>
<line x1="270.35" y1="75.29" x2="265.85" y2="75.29" stroke="#000" stroke-width="1.0"/>
<line x1="55.65" y1="73.66" x2="60.15" y2="73.66" stroke="#000" stroke-width="1.0"/>
<line x1="270.35" y1="73.66" x2="265.85" y2="73.66" stroke="#000" stroke-width="1.0"/>
<line x1="55.65" y1="72.25" x2="60.15" y2="72.25" stroke="#000" stroke-width="1.0"/>
<line x1="270.35" y1="72.25" x2="265.85" y2="72.25" stroke="#000" stroke-width="1.0"/>
<line x1="55.65" y1="71.01" x2="60.15" y2="71.01" stroke="#000" stroke-width="1.0"/>
<line x1="270.35" y1="71.01" x2="265.85" y2="71.01" stroke="#000" stroke-width="1.0"/>
<line x1="55.65" y1="69.90" x2="64.65" y2="69.90" stroke="#000" stroke-width="1.0"/>
<line x1="270.35" y1="69.90" x2="261.35" y2="69.90" stroke="#000" stroke-width="1.0"/>
<line x1="55.65" y1="62.58" x2="60.15" y2="62.58" stroke="#000" stroke-width="1.0"/>
<line x1="270.35" y1="62.58" x2="265.85" y2="62.58" stroke="#000" stroke-width="1.0"/>
<line x1="55.65" y1="58.31" x2="60.15" y2="58.31" stroke="#000" stroke-width="1.0"/>
<line x1="270.35" y1="58.31" x2="265.85" y2="58.31" stroke="#000" stroke-width="1.0"/>
<line x1="55.65" y1="55.27" x2="60.15" y2="55.27" stroke="#000" stroke-width="1.0"/>
<line x1="270.35" y1="55.27" x2="265.85" y2="55.27" stroke="#000" stroke-width="1.0"/>
<line x1="55.65" y1="52.92" x2="60.15" y2="52.92" stroke="#000" stroke-width="1.0"/>
<line x1="270.35" y1="52.92" x2="265.85" y2="52.92" stroke="#000" stroke-width="1.0"/>
<line x1="55.65" y1="50.99" x2="60.15" y2="50.99" stroke="#000" stroke-width="1.0"/>
<line x1="270.35" y1="50.99" x2="265.85" y2="50.99" stroke="#000" stroke-width="1.0"/>
<line x1="55.65" y1="49.36" x2="60.15" y2="49.36" stroke="#000" stroke-width="1.0"/>
<line x1="270.35" y1="49.36" x2="265.85" y2="49.36" stroke="#000" stroke-width="1.0"/>
<line x1="55.65" y1="47.95" x2="60.15" y2="47.95" stroke="#000" stroke-width="1.0"/>
<line x1="270.35" y1="47.95" x2="265.85" y2="47.95" stroke="#000" stroke-width="1.0"/>
<line x1="55.65" y1="46.71" x2="60.15" y2="46.71" stroke="#000" stroke-width="1.0"/>
<line x1="270.35" y1="46.71" x2="265.85" y2="46.71" stroke="#000" stroke-width="1.0"/>
<line x1="55.65" y1="45.60" x2="64.65" y2="45.60" stroke="#000" stroke-width="1.0"/>
<line x1="270.35" y1="45.60" x2="261.35" y2="45.60" stroke="#000" stroke-width="1.0"/>
<line x1="55.65" y1="38.28" x2="60.15" y2="38.28" stroke="#000" stroke-width="1.0"/>
<line x1="270.35" y1="38.28" x2="265.85" y2="38.28" stroke="#000" stroke-width="1.0"/>
<line x1="55.65" y1="34.01" x2="60.15" y2="34.01" stroke="#000" stroke-width="1.0"/>
<line x1="270.35" y1="34.01" x2="265.85" y2="34.01" stroke="#000" stroke-width="1.0"/>
<line x1="55.65" y1="30.97" x2="60.15" y2="30.97" stroke="#000" stroke-width="1.0"/>
<line x1="270.35" y1="30.97" x2="265.85" y2="30.97" stroke="#000" stroke-width="1.0"/>
<line x1="55.65" y1="28.62" x2="60.15" y2="28.62" stroke="#000" stroke-width="1.0"/>
<line x1="270.35" y1="28.62" x2="265.85" y2="28.62" stroke="#000" stroke-width="1.0"/>
<line x1="55.65" y1="26.69" x2="60.15" y2="26.69" stroke="#000" stroke-width="1.0"/>
<line x1="270.35" y1="26.69" x2="265.85" y2="26.69" stroke="#000" stroke-width="1.0"/>
<line x1="55.65" y1="25.06" x2="60.15" y2="25.06" stroke="#000" stroke-width="1.0"/>
<line x1="270.35" y1="25.06" x2="265.85" y2="25.06" stroke="#000" stroke-width="1.0"/>
<line x1="55.65" y1="23.65" x2="60.15" y2="23.65" stroke="#000" stroke-width="1.0"/>
<line x1="270.35" y1="23.65" x2="265.85" y2="23.65" stroke="#000" stroke-width="1.0"/>
<line x1="55.65" y1="22.41" x2="60.15" y2="22.41" stroke="#000" stroke-width="1.0"/>
<line x1="270.35" y1="22.41" x2="265.85" y2="22.41" stroke="#000" stroke-width="1.0"/>
<line x1="55.65" y1="21.30" x2="64.65" y2="21.30" stroke="#000" stroke-width="1.0"/>
<line x1="270.35" y1="21.30" x2="261.35" y2="21.30" stroke="#000" stroke-width="1.0"/>
<line x1="55.65" y1="13.98" x2="60.15" y2="13.98" stroke="#000" stroke-width="1.0"/>
<line x1="270.35" y1="13.98" x2="265.85" y2="13.98" stroke="#000" stroke-width="1.0"/>
<line x1="55.65" y1="9.71" x2="60.15" y2="9.71" stroke="#000" stroke-width="1.0"/>
<line x1="270.35" y1="9.71" x2="265.85" y2="9.71" stroke="#000" stroke-width="1.0"/>
<line x1="55.65" y1="6.67" x2="60.15" y2="6.67" stroke="#000" stroke-width="1.0"/>
<line x1="270.35" y1="6.67" x2="265.85" y2="6.67" stroke="#000" stroke-width="1.0"/>
<circle cx="371.4" cy="233.0" r="3.0" fill="#0000FF"/>
<circle cx="374.9" cy="234.3" r="3.0" fill="#0000FF"/>
<circle cx="377.9" cy="228.0" r="3.0" fill="#0000FF"/>
<circle cx="382.2" cy="225.5" r="3.0" fill="#0000FF"/>
<circle cx="386.6" cy="220.8" r="3.0" fill="#0000FF"/>
<circle cx="391.5" cy="220.0" r="3.0" fill="#0000FF"/>
<circle cx="395.6" cy="214.7" r="3.0" fill="#0000FF"/>
<circle cx="400.2" cy="215.0" r="3.0" fill="#0000FF"/>
<circle cx="405.0" cy="210.1" r="3.0" fill="#0000FF"/>
<circle cx="408.6" cy="201.4" r="3.0" fill="#0000FF"/>
<circle cx="413.2" cy="201.5" r="3.0" fill="#0000FF"/>
<rect x="367.1" y="224.1" width="5.6" height="5.6" fill="#008B00"/>
<rect x="370.6" y="221.1" width="5.6" height="5.6" fill="#008B00"/>
<rect x="375.6" y="213.7" width="5.6" height="5.6" fill="#008B00"/>
<rect x="379.6" y="206.0" width="5.6" height="5.6" fill="#008B00"/>
<rect x="383.6" y="200.1" width="5.6" height="5.6" fill="#008B00"/>
<rect x="389.0" y="194.1" width="5.6" height="5.6" fill="#008B00"/>
<rect x="394.0" y="188.2" width="5.6" height="5.6" fill="#008B00"/>
<rect x="398.1" y="182.2" width="5.6" height="5.6" fill="#008B00"/>
<rect x="401.9" y="175.4" width="5.6" height="5.6" fill="#008B00"/>
<rect x="406.0" y="161.6" width="5.6" height="5.6" fill="#008B00"/>
<rect x="410.0" y="157.1" width="5.6" height="5.6" fill="#008B00"/>
<polygon points="367.9,223.3 371.3,226.9 367.9,230.5 364.5,226.9" fill="#00FF00"/>
<polygon points="369.4,217.3 372.8,220.9 369.4,224.5 366.0,220.9" fill="#00FF00"/>
<polygon points="373.4,208.6 376.8,212.2 373.4,215.8 370.0,212.2" fill="#00FF00"/>
<polygon points="377.4,199.3 380.8,202.9 377.4,206.5 374.0,202.9" fill="#00FF00"/>
<polygon points="382.9,187.2 386.3,190.8 382.9,194.4 379.5,190.8" fill="#00FF00"/>
<polygon points="387.6,177.7 391.0,181.3 387.6,184.9 384.2,181.3" fill="#00FF00"/>
<polygon points="392.2,166.9 395.6,170.5 392.2,174.1 388.8,170.5" fill="#00FF00"/>
<polygon points="396.9,156.0 400.3,159.6 396.9,163.2 393.5,159.6" fill="#00FF00"/>
<polygon points="400.2,147.7 403.6,151.3 400.2,154.9 396.8,151.3" fill="#00FF00"/>
<polygon points="404.8,136.3 408.2,139.9 404.8,143.5 401.4,139.9" fill="#00FF00"/>
<polygon points="406.9,122.1 410.3,125.7 406.9,129.3 403.5,125.7" fill="#00FF00"/>
<polygon points="413.0,102.6 416.4,106.2 413.0,109.8 409.6,106.2" fill="#00FF00"/>
<polygon points="377.6,208.1 380.7,213.6 374.5,213.6" fill="#6A16C8"/>
<polygon points="383.0,201.2 386.1,206.7 379.9,206.7" fill="#6A16C8"/>
<polygon points="388.4,192.2 391.5,197.7 385.3,197.7" fill="#6A16C8"/>
<polygon points="393.7,185.8 396.8,191.2 390.6,191.2" fill="#6A16C8"/>
<polygon points="399.1,176.9 402.2,182.4 396.0,182.4" fill="#6A16C8"/>
<polygon points="404.5,170.3 407.6,175.8 401.4,175.8" fill="#6A16C8"/>
<polygon points="409.9,165.2 413.0,170.7 406.8,170.7" fill="#6A16C8"/>
<polygon points="415.3,159.2 418.4,164.7 412.2,164.7" fill="#6A16C8"/>
<polygon points="420.6,152.2 423.7,157.8 417.5,157.8" fill="#6A16C8"/>
<polygon points="426.0,145.8 429.1,151.3 422.9,151.3" fill="#6A16C8"/>
<polygon points="431.4,140.8 434.5,146.3 428.3,146.3" fill="#6A16C8"/>
<polygon points="436.8,138.0 439.9,143.5 433.7,143.5" fill="#6A16C8"/>
<polygon points="442.2,133.9 445.3,139.4 439.1,139.4" fill="#6A16C8"/>
<polygon points="447.5,129.9 450.6,135.4 444.4,135.4" fill="#6A16C8"/>
<polygon points="452.9,130.4 456.0,135.9 449.8,135.9" fill="#6A16C8"/>
<polygon points="458.3,122.0 461.4,127.5 455.2,127.5" fill="#6A16C8"/>
<polygon points="463.7,119.5 466.8,125.0 460.6,125.0" fill="#6A16C8"/>
<polygon points="469.1,117.0 472.2,122.5 466.0,122.5" fill="#6A16C8"/>
<polygon points="474.4,114.2 477.5,119.8 471.3,119.8" fill="#6A16C8"/>
<line x1="479.82" y1="112.80" x2="479.82" y2="119.20" stroke="#6A16C8" stroke-width="1.2"/>
<polygon points="479.8,113.2 482.9,118.8 476.7,118.8" fill="#6A16C8"/>
<line x1="485.20" y1="112.50" x2="485.20" y2="118.50" stroke="#6A16C8" stroke-width="1.2"/>
<polygon points="485.2,112.8 488.3,118.2 482.1,118.2" fill="#6A16C8"/>
<line x1="490.58" y1="111.30" x2="490.58" y2="118.30" stroke="#6A16C8" stroke-width="1.2"/>
<polygon points="490.6,112.0 493.7,117.5 487.5,117.5" fill="#6A16C8"/>
<line x1="495.96" y1="108.00" x2="495.96" y2="116.00" stroke="#6A16C8" stroke-width="1.2"/>
<polygon points="496.0,109.2 499.1,114.8 492.9,114.8" fill="#6A16C8"/>
<line x1="501.34" y1="110.40" x2="501.34" y2="119.20" stroke="#6A16C8" stroke-width="1.2"/>
<polygon points="501.3,112.0 504.4,117.5 498.2,117.5" fill="#6A16C8"/>
<line x1="506.72" y1="99.20" x2="506.72" y2="109.20" stroke="#6A16C8" stroke-width="1.2"/>
<polygon points="506.7,101.5 509.8,107.0 503.6,107.0" fill="#6A16C8"/>
<line x1="512.10" y1="115.60" x2="512.10" y2="128.20" stroke="#6A16C8" stroke-width="1.2"/>
<polygon points="512.1,119.2 515.2,124.7 509.0,124.7" fill="#6A16C8"/>
<line x1="517.48" y1="108.70" x2="517.48" y2="122.30" stroke="#6A16C8" stroke-width="1.2"/>
<polygon points="517.5,112.8 520.6,118.2 514.4,118.2" fill="#6A16C8"/>
<line x1="531.60" y1="108.40" x2="531.60" y2="118.40" stroke="#6A16C8" stroke-width="1.2"/>
<polygon points="531.6,110.7 534.7,116.2 528.5,116.2" fill="#6A16C8"/>
<polygon points="377.6,199.8 380.7,194.0 374.5,194.0" fill="#FF00FF"/>
<polygon points="383.0,186.5 386.1,180.7 379.9,180.7" fill="#FF00FF"/>
<polygon points="388.4,172.0 391.5,166.2 385.3,166.2" fill="#FF00FF"/>
<polygon points="393.7,158.9 396.8,153.1 390.6,153.1" fill="#FF00FF"/>
<polygon points="399.1,148.4 402.2,142.6 396.0,142.6" fill="#FF00FF"/>
<polygon points="404.5,137.8 407.6,132.0 401.4,132.0" fill="#FF00FF"/>
<polygon points="409.9,126.4 413.0,120.6 406.8,120.6" fill="#FF00FF"/>
<polygon points="415.3,120.5 418.4,114.7 412.2,114.7" fill="#FF00FF"/>
<polygon points="420.6,109.1 423.7,103.3 417.5,103.3" fill="#FF00FF"/>
<polygon points="426.0,100.6 429.1,94.8 422.9,94.8" fill="#FF00FF"/>
<polygon points="431.4,98.5 434.5,92.7 428.3,92.7" fill="#FF00FF"/>
<polygon points="436.8,89.3 439.9,83.5 433.7,83.5" fill="#FF00FF"/>
<polygon points="442.2,86.4 445.3,80.6 439.1,80.6" fill="#FF00FF"/>
<polygon points="447.5,81.4 450.6,75.6 444.4,75.6" fill="#FF00FF"/>
<polygon points="452.9,77.7 456.0,71.9 449.8,71.9" fill="#FF00FF"/>
<polygon points="458.3,68.4 461.4,62.6 455.2,62.6" fill="#FF00FF"/>
<line x1="463.68" y1="60.00" x2="463.68" y2="65.00" stroke="#FF00FF" stroke-width="1.3"/>
<polygon points="463.7,65.4 466.8,59.6 460.6,59.6" fill="#FF00FF"/>
<line x1="469.06" y1="68.00" x2="469.06" y2="75.00" stroke="#FF00FF" stroke-width="1.3"/>
<polygon points="469.1,74.4 472.2,68.6 466.0,68.6" fill="#FF00FF"/>
<line x1="474.44" y1="58.70" x2="474.44" y2="66.70" stroke="#FF00FF" stroke-width="1.3"/>
<polygon points="474.4,65.6 477.5,59.8 471.3,59.8" fill="#FF00FF"/>
<line x1="479.82" y1="56.30" x2="479.82" y2="66.30" stroke="#FF00FF" stroke-width="1.3"/>
<polygon points="479.8,64.2 482.9,58.4 476.7,58.4" fill="#FF00FF"/>
<line x1="485.20" y1="55.60" x2="485.20" y2="65.60" stroke="#FF00FF" stroke-width="1.3"/>
<polygon points="485.2,63.5 488.3,57.7 482.1,57.7" fill="#FF00FF"/>
<line x1="490.58" y1="40.80" x2="490.58" y2="54.80" stroke="#FF00FF" stroke-width="1.3"/>
<polygon points="490.6,50.7 493.7,44.9 487.5,44.9" fill="#FF00FF"/>
<line x1="495.96" y1="64.50" x2="495.96" y2="82.10" stroke="#FF00FF" stroke-width="1.3"/>
<polygon points="496.0,76.2 499.1,70.4 492.9,70.4" fill="#FF00FF"/>
<line x1="501.34" y1="54.20" x2="501.34" y2="75.60" stroke="#FF00FF" stroke-width="1.3"/>
<polygon points="501.3,67.8 504.4,62.0 498.2,62.0" fill="#FF00FF"/>
<line x1="506.72" y1="50.90" x2="506.72" y2="73.30" stroke="#FF00FF" stroke-width="1.3"/>
<polygon points="506.7,65.0 509.8,59.2 503.6,59.2" fill="#FF00FF"/>
<line x1="512.10" y1="66.90" x2="512.10" y2="91.30" stroke="#FF00FF" stroke-width="1.3"/>
<polygon points="512.1,82.0 515.2,76.2 509.0,76.2" fill="#FF00FF"/>
<line x1="517.48" y1="60.50" x2="517.48" y2="85.90" stroke="#FF00FF" stroke-width="1.3"/>
<polygon points="517.5,76.1 520.6,70.3 514.4,70.3" fill="#FF00FF"/>
<line x1="531.60" y1="65.10" x2="531.60" y2="84.70" stroke="#FF00FF" stroke-width="1.3"/>
<polygon points="531.6,77.8 534.7,72.0 528.5,72.0" fill="#FF00FF"/>
<polyline points="363.0,239.0 363.5,237.8 369.8,224.0 376.4,209.0 379.1,200.0 385.0,180.0 389.1,170.0 393.4,159.7 398.0,149.8 402.7,139.9 407.5,130.0 412.7,119.7 416.3,114.8 419.1,110.5 421.2,106.2 423.4,102.7 426.9,98.4 430.5,95.9 433.3,93.5 435.1,89.2 436.8,86.8 440.4,84.3 443.2,81.4 444.6,79.6 446.3,77.2 448.4,77.6 451.2,72.9 453.4,73.3 455.5,69.5 458.3,70.1 462.6,65.5 464.0,65.2 466.1,61.0 468.3,61.3 470.4,56.3 472.5,59.9 473.9,58.4 478.6,50.6 480.6,54.9 482.9,50.6 487.3,56.3 489.9,47.7 493.5,40.6 495.6,43.4 497.7,39.1 500.6,38.4 502.3,30.6 504.8,43.4 506.7,39.1 508.4,43.4 511.2,32.8 513.3,32.8 517.3,45.5 519.7,35.6 521.8,32.4 523.5,37.0 525.6,28.5 528.2,27.8 530.3,38.2 532.5,32.4 534.6,40.5 538.8,24.2 543.1,30.0 545.3,42.0 547.6,21.6 549.5,29.2 552.3,29.7 554.0,23.4 556.2,31.6 558.5,17.5 560.7,36.9 562.5,24.8 565.0,41.1 566.8,4.3 569.2,20.6 571.3,22.7 573.5,26.2 574.6,27.5" fill="none" stroke="#000" stroke-width="1.2" stroke-linejoin="round" stroke-linecap="butt"/>
<polyline points="363.2,239.0 363.5,237.8 374.0,223.0 384.1,208.8 389.2,200.0 395.0,190.0 401.0,180.0 407.5,170.5 414.8,160.5 419.8,155.3 425.0,150.0 429.3,146.0 431.2,143.8 432.7,146.0 434.3,143.3 438.6,139.8 443.6,136.1 448.6,132.4 450.4,127.4 452.5,134.9 454.8,125.5 458.7,124.7 461.0,128.6 465.3,123.1 468.4,119.5 470.5,118.4 474.0,112.7 476.2,117.0 479.0,113.4 482.6,111.3 485.1,103.5 487.5,104.2 491.1,112.7 495.3,101.3 499.0,106.2 500.4,106.6 504.4,93.4 506.8,104.5 511.1,88.0 515.3,112.7 517.4,96.2 521.7,86.3 524.2,94.8 526.2,95.5 528.4,104.0 532.6,84.2 534.5,111.0 539.1,71.2 541.1,99.0 543.3,77.8 545.1,101.6 547.9,75.8 549.4,92.0 552.9,82.8 556.4,77.8 558.3,86.3 562.0,66.5 569.2,111.3 574.6,66.0" fill="none" stroke="#000" stroke-width="1.2" stroke-linejoin="round" stroke-linecap="butt"/>
<polyline points="363.2,238.5 364.7,235.0 366.2,231.2 367.7,228.5 369.2,225.3 370.7,221.3 372.2,218.3 373.7,215.2 375.2,211.1 376.7,207.6 378.2,203.1 379.7,197.5 381.2,192.3 382.7,187.9 384.2,182.4 385.7,177.6 387.2,174.6 388.7,170.9 390.2,166.7 391.7,163.6 393.2,160.2 394.7,156.1 396.2,152.7 397.7,149.5 399.2,145.3 400.7,141.7 402.2,138.8 403.7,135.3 405.2,131.9 406.7,129.5 408.2,126.2 409.7,122.7 411.2,120.4" fill="none" stroke="#FFA000" stroke-width="1.3" stroke-linejoin="round" stroke-linecap="butt"/>
<polyline points="363.5,238.0 365.0,235.3 366.5,232.8 368.0,231.5 369.5,229.2 371.0,226.4 372.5,225.0 374.0,223.0 375.5,220.1 377.0,218.5 378.5,216.8 380.0,213.9 381.5,212.0 383.0,210.5 384.5,207.6 386.0,204.8 387.5,203.1 389.0,200.1 390.5,197.0 392.0,195.2 393.5,192.5 395.0,189.2 396.5,187.3 398.0,185.1 399.5,181.8 401.0,179.6 402.5,178.0 404.0,174.8 405.5,172.2 407.0,170.5 408.5,167.5 410.0,164.9 411.5,163.7 413.0,161.4" fill="none" stroke="#FFA000" stroke-width="1.3" stroke-linejoin="round" stroke-linecap="butt"/>
<polyline points="365.5,239.8 366.7,237.3 367.9,235.6 369.1,236.5 370.3,235.4 371.5,232.6 372.7,232.6 373.9,233.0 375.1,230.5 376.3,228.8 377.5,229.7 378.7,228.6 379.9,225.8 381.1,225.9 382.3,226.2 383.5,223.7 384.7,222.1 385.9,223.0 387.1,221.8 388.3,219.0 389.5,219.1 390.7,219.4 391.9,216.8 393.1,215.3 394.3,216.2 395.5,214.9 396.7,212.2 397.9,212.4 399.1,212.6 400.3,210.0 401.5,208.5 402.7,209.5 403.9,208.1 405.1,205.4 406.3,205.6 407.5,205.8 408.7,203.2 409.9,201.8 411.1,202.7 412.3,201.3" fill="none" stroke="#FFA000" stroke-width="1.3" stroke-linejoin="round" stroke-linecap="butt"/>
<rect x="359.15" y="6.45" width="215.00" height="233.35" fill="none" stroke="#000" stroke-width="1.3"/>
<line x1="359.15" y1="239.80" x2="359.15" y2="232.80" stroke="#000" stroke-width="1.1"/>
<line x1="359.15" y1="6.45" x2="359.15" y2="13.45" stroke="#000" stroke-width="1.1"/>
<line x1="369.90" y1="239.80" x2="369.90" y2="236.00" stroke="#000" stroke-width="1.1"/>
<line x1="369.90" y1="6.45" x2="369.90" y2="10.25" stroke="#000" stroke-width="1.1"/>
<line x1="380.65" y1="239.80" x2="380.65" y2="236.00" stroke="#000" stroke-width="1.1"/>
<line x1="380.65" y1="6.45" x2="380.65" y2="10.25" stroke="#000" stroke-width="1.1"/>
<line x1="391.40" y1="239.80" x2="391.40" y2="236.00" stroke="#000" stroke-width="1.1"/>
<line x1="391.40" y1="6.45" x2="391.40" y2="10.25" stroke="#000" stroke-width="1.1"/>
<line x1="402.15" y1="239.80" x2="402.15" y2="236.00" stroke="#000" stroke-width="1.1"/>
<line x1="402.15" y1="6.45" x2="402.15" y2="10.25" stroke="#000" stroke-width="1.1"/>
<line x1="412.90" y1="239.80" x2="412.90" y2="232.80" stroke="#000" stroke-width="1.1"/>
<line x1="412.90" y1="6.45" x2="412.90" y2="13.45" stroke="#000" stroke-width="1.1"/>
<line x1="423.65" y1="239.80" x2="423.65" y2="236.00" stroke="#000" stroke-width="1.1"/>
<line x1="423.65" y1="6.45" x2="423.65" y2="10.25" stroke="#000" stroke-width="1.1"/>
<line x1="434.40" y1="239.80" x2="434.40" y2="236.00" stroke="#000" stroke-width="1.1"/>
<line x1="434.40" y1="6.45" x2="434.40" y2="10.25" stroke="#000" stroke-width="1.1"/>
<line x1="445.15" y1="239.80" x2="445.15" y2="236.00" stroke="#000" stroke-width="1.1"/>
<line x1="445.15" y1="6.45" x2="445.15" y2="10.25" stroke="#000" stroke-width="1.1"/>
<line x1="455.90" y1="239.80" x2="455.90" y2="236.00" stroke="#000" stroke-width="1.1"/>
<line x1="455.90" y1="6.45" x2="455.90" y2="10.25" stroke="#000" stroke-width="1.1"/>
<line x1="466.65" y1="239.80" x2="466.65" y2="232.80" stroke="#000" stroke-width="1.1"/>
<line x1="466.65" y1="6.45" x2="466.65" y2="13.45" stroke="#000" stroke-width="1.1"/>
<line x1="477.40" y1="239.80" x2="477.40" y2="236.00" stroke="#000" stroke-width="1.1"/>
<line x1="477.40" y1="6.45" x2="477.40" y2="10.25" stroke="#000" stroke-width="1.1"/>
<line x1="488.15" y1="239.80" x2="488.15" y2="236.00" stroke="#000" stroke-width="1.1"/>
<line x1="488.15" y1="6.45" x2="488.15" y2="10.25" stroke="#000" stroke-width="1.1"/>
<line x1="498.90" y1="239.80" x2="498.90" y2="236.00" stroke="#000" stroke-width="1.1"/>
<line x1="498.90" y1="6.45" x2="498.90" y2="10.25" stroke="#000" stroke-width="1.1"/>
<line x1="509.65" y1="239.80" x2="509.65" y2="236.00" stroke="#000" stroke-width="1.1"/>
<line x1="509.65" y1="6.45" x2="509.65" y2="10.25" stroke="#000" stroke-width="1.1"/>
<line x1="520.40" y1="239.80" x2="520.40" y2="232.80" stroke="#000" stroke-width="1.1"/>
<line x1="520.40" y1="6.45" x2="520.40" y2="13.45" stroke="#000" stroke-width="1.1"/>
<line x1="531.15" y1="239.80" x2="531.15" y2="236.00" stroke="#000" stroke-width="1.1"/>
<line x1="531.15" y1="6.45" x2="531.15" y2="10.25" stroke="#000" stroke-width="1.1"/>
<line x1="541.90" y1="239.80" x2="541.90" y2="236.00" stroke="#000" stroke-width="1.1"/>
<line x1="541.90" y1="6.45" x2="541.90" y2="10.25" stroke="#000" stroke-width="1.1"/>
<line x1="552.65" y1="239.80" x2="552.65" y2="236.00" stroke="#000" stroke-width="1.1"/>
<line x1="552.65" y1="6.45" x2="552.65" y2="10.25" stroke="#000" stroke-width="1.1"/>
<line x1="563.40" y1="239.80" x2="563.40" y2="236.00" stroke="#000" stroke-width="1.1"/>
<line x1="563.40" y1="6.45" x2="563.40" y2="10.25" stroke="#000" stroke-width="1.1"/>
<line x1="574.15" y1="239.80" x2="574.15" y2="232.80" stroke="#000" stroke-width="1.1"/>
<line x1="574.15" y1="6.45" x2="574.15" y2="13.45" stroke="#000" stroke-width="1.1"/>
<line x1="359.15" y1="239.80" x2="366.15" y2="239.80" stroke="#000" stroke-width="1.1"/>
<line x1="574.15" y1="239.80" x2="567.15" y2="239.80" stroke="#000" stroke-width="1.1"/>
<line x1="359.15" y1="232.02" x2="363.15" y2="232.02" stroke="#000" stroke-width="1.1"/>
<line x1="574.15" y1="232.02" x2="570.15" y2="232.02" stroke="#000" stroke-width="1.1"/>
<line x1="359.15" y1="224.24" x2="363.15" y2="224.24" stroke="#000" stroke-width="1.1"/>
<line x1="574.15" y1="224.24" x2="570.15" y2="224.24" stroke="#000" stroke-width="1.1"/>
<line x1="359.15" y1="216.47" x2="363.15" y2="216.47" stroke="#000" stroke-width="1.1"/>
<line x1="574.15" y1="216.47" x2="570.15" y2="216.47" stroke="#000" stroke-width="1.1"/>
<line x1="359.15" y1="208.69" x2="363.15" y2="208.69" stroke="#000" stroke-width="1.1"/>
<line x1="574.15" y1="208.69" x2="570.15" y2="208.69" stroke="#000" stroke-width="1.1"/>
<line x1="359.15" y1="200.91" x2="366.15" y2="200.91" stroke="#000" stroke-width="1.1"/>
<line x1="574.15" y1="200.91" x2="567.15" y2="200.91" stroke="#000" stroke-width="1.1"/>
<line x1="359.15" y1="193.13" x2="363.15" y2="193.13" stroke="#000" stroke-width="1.1"/>
<line x1="574.15" y1="193.13" x2="570.15" y2="193.13" stroke="#000" stroke-width="1.1"/>
<line x1="359.15" y1="185.35" x2="363.15" y2="185.35" stroke="#000" stroke-width="1.1"/>
<line x1="574.15" y1="185.35" x2="570.15" y2="185.35" stroke="#000" stroke-width="1.1"/>
<line x1="359.15" y1="177.57" x2="363.15" y2="177.57" stroke="#000" stroke-width="1.1"/>
<line x1="574.15" y1="177.57" x2="570.15" y2="177.57" stroke="#000" stroke-width="1.1"/>
<line x1="359.15" y1="169.80" x2="363.15" y2="169.80" stroke="#000" stroke-width="1.1"/>
<line x1="574.15" y1="169.80" x2="570.15" y2="169.80" stroke="#000" stroke-width="1.1"/>
<line x1="359.15" y1="162.02" x2="366.15" y2="162.02" stroke="#000" stroke-width="1.1"/>
<line x1="574.15" y1="162.02" x2="567.15" y2="162.02" stroke="#000" stroke-width="1.1"/>
<line x1="359.15" y1="154.24" x2="363.15" y2="154.24" stroke="#000" stroke-width="1.1"/>
<line x1="574.15" y1="154.24" x2="570.15" y2="154.24" stroke="#000" stroke-width="1.1"/>
<line x1="359.15" y1="146.46" x2="363.15" y2="146.46" stroke="#000" stroke-width="1.1"/>
<line x1="574.15" y1="146.46" x2="570.15" y2="146.46" stroke="#000" stroke-width="1.1"/>
<line x1="359.15" y1="138.68" x2="363.15" y2="138.68" stroke="#000" stroke-width="1.1"/>
<line x1="574.15" y1="138.68" x2="570.15" y2="138.68" stroke="#000" stroke-width="1.1"/>
<line x1="359.15" y1="130.90" x2="363.15" y2="130.90" stroke="#000" stroke-width="1.1"/>
<line x1="574.15" y1="130.90" x2="570.15" y2="130.90" stroke="#000" stroke-width="1.1"/>
<line x1="359.15" y1="123.12" x2="366.15" y2="123.12" stroke="#000" stroke-width="1.1"/>
<line x1="574.15" y1="123.12" x2="567.15" y2="123.12" stroke="#000" stroke-width="1.1"/>
<line x1="359.15" y1="115.35" x2="363.15" y2="115.35" stroke="#000" stroke-width="1.1"/>
<line x1="574.15" y1="115.35" x2="570.15" y2="115.35" stroke="#000" stroke-width="1.1"/>
<line x1="359.15" y1="107.57" x2="363.15" y2="107.57" stroke="#000" stroke-width="1.1"/>
<line x1="574.15" y1="107.57" x2="570.15" y2="107.57" stroke="#000" stroke-width="1.1"/>
<line x1="359.15" y1="99.79" x2="363.15" y2="99.79" stroke="#000" stroke-width="1.1"/>
<line x1="574.15" y1="99.79" x2="570.15" y2="99.79" stroke="#000" stroke-width="1.1"/>
<line x1="359.15" y1="92.01" x2="363.15" y2="92.01" stroke="#000" stroke-width="1.1"/>
<line x1="574.15" y1="92.01" x2="570.15" y2="92.01" stroke="#000" stroke-width="1.1"/>
<line x1="359.15" y1="84.23" x2="366.15" y2="84.23" stroke="#000" stroke-width="1.1"/>
<line x1="574.15" y1="84.23" x2="567.15" y2="84.23" stroke="#000" stroke-width="1.1"/>
<line x1="359.15" y1="76.45" x2="363.15" y2="76.45" stroke="#000" stroke-width="1.1"/>
<line x1="574.15" y1="76.45" x2="570.15" y2="76.45" stroke="#000" stroke-width="1.1"/>
<line x1="359.15" y1="68.68" x2="363.15" y2="68.68" stroke="#000" stroke-width="1.1"/>
<line x1="574.15" y1="68.68" x2="570.15" y2="68.68" stroke="#000" stroke-width="1.1"/>
<line x1="359.15" y1="60.90" x2="363.15" y2="60.90" stroke="#000" stroke-width="1.1"/>
<line x1="574.15" y1="60.90" x2="570.15" y2="60.90" stroke="#000" stroke-width="1.1"/>
<line x1="359.15" y1="53.12" x2="363.15" y2="53.12" stroke="#000" stroke-width="1.1"/>
<line x1="574.15" y1="53.12" x2="570.15" y2="53.12" stroke="#000" stroke-width="1.1"/>
<line x1="359.15" y1="45.34" x2="366.15" y2="45.34" stroke="#000" stroke-width="1.1"/>
<line x1="574.15" y1="45.34" x2="567.15" y2="45.34" stroke="#000" stroke-width="1.1"/>
<line x1="359.15" y1="37.56" x2="363.15" y2="37.56" stroke="#000" stroke-width="1.1"/>
<line x1="574.15" y1="37.56" x2="570.15" y2="37.56" stroke="#000" stroke-width="1.1"/>
<line x1="359.15" y1="29.78" x2="363.15" y2="29.78" stroke="#000" stroke-width="1.1"/>
<line x1="574.15" y1="29.78" x2="570.15" y2="29.78" stroke="#000" stroke-width="1.1"/>
<line x1="359.15" y1="22.01" x2="363.15" y2="22.01" stroke="#000" stroke-width="1.1"/>
<line x1="574.15" y1="22.01" x2="570.15" y2="22.01" stroke="#000" stroke-width="1.1"/>
<line x1="359.15" y1="14.23" x2="363.15" y2="14.23" stroke="#000" stroke-width="1.1"/>
<line x1="574.15" y1="14.23" x2="570.15" y2="14.23" stroke="#000" stroke-width="1.1"/>
<line x1="359.15" y1="6.45" x2="366.15" y2="6.45" stroke="#000" stroke-width="1.1"/>
<line x1="574.15" y1="6.45" x2="567.15" y2="6.45" stroke="#000" stroke-width="1.1"/>
<text x="55.65" y="254.20" font-size="14.2" text-anchor="middle" font-family="Liberation Serif, serif" >0</text>
<text x="91.43" y="254.20" font-size="14.2" text-anchor="middle" font-family="Liberation Serif, serif" >0.5</text>
<text x="127.22" y="254.20" font-size="14.2" text-anchor="middle" font-family="Liberation Serif, serif" >1</text>
<text x="163.00" y="254.20" font-size="14.2" text-anchor="middle" font-family="Liberation Serif, serif" >1.5</text>
<text x="198.78" y="254.20" font-size="14.2" text-anchor="middle" font-family="Liberation Serif, serif" >2</text>
<text x="234.57" y="254.20" font-size="14.2" text-anchor="middle" font-family="Liberation Serif, serif" >2.5</text>
<text x="270.35" y="254.20" font-size="14.2" text-anchor="middle" font-family="Liberation Serif, serif" >3</text>
<text x="359.15" y="254.50" font-size="14.2" text-anchor="middle" font-family="Liberation Serif, serif" >0</text>
<text x="412.90" y="254.50" font-size="14.2" text-anchor="middle" font-family="Liberation Serif, serif" >1</text>
<text x="466.65" y="254.50" font-size="14.2" text-anchor="middle" font-family="Liberation Serif, serif" >2</text>
<text x="520.40" y="254.50" font-size="14.2" text-anchor="middle" font-family="Liberation Serif, serif" >3</text>
<text x="574.15" y="254.50" font-size="14.2" text-anchor="middle" font-family="Liberation Serif, serif" >4</text>
<text x="355.30" y="245.10" font-size="14.2" text-anchor="end" font-family="Liberation Serif, serif" >0</text>
<text x="355.30" y="206.21" font-size="14.2" text-anchor="end" font-family="Liberation Serif, serif" >0.05</text>
<text x="355.30" y="167.32" font-size="14.2" text-anchor="end" font-family="Liberation Serif, serif" >0.1</text>
<text x="355.30" y="128.42" font-size="14.2" text-anchor="end" font-family="Liberation Serif, serif" >0.15</text>
<text x="355.30" y="89.53" font-size="14.2" text-anchor="end" font-family="Liberation Serif, serif" >0.2</text>
<text x="355.30" y="50.64" font-size="14.2" text-anchor="end" font-family="Liberation Serif, serif" >0.25</text>
<text x="355.30" y="11.75" font-size="14.2" text-anchor="end" font-family="Liberation Serif, serif" >0.3</text>
<text x="50.9" y="240.70" font-size="11.6" text-anchor="end" font-family="Liberation Serif, serif">-6</text>
<text x="41.80" y="247.90" font-size="13.9" text-anchor="end" font-family="Liberation Serif, serif" >10</text>
<text x="50.9" y="216.40" font-size="11.6" text-anchor="end" font-family="Liberation Serif, serif">-5</text>
<text x="41.80" y="223.60" font-size="13.9" text-anchor="end" font-family="Liberation Serif, serif" >10</text>
<text x="50.9" y="192.10" font-size="11.6" text-anchor="end" font-family="Liberation Serif, serif">-4</text>
<text x="41.80" y="199.30" font-size="13.9" text-anchor="end" font-family="Liberation Serif, serif" >10</text>
<text x="50.9" y="167.80" font-size="11.6" text-anchor="end" font-family="Liberation Serif, serif">-3</text>
<text x="41.80" y="175.00" font-size="13.9" text-anchor="end" font-family="Liberation Serif, serif" >10</text>
<text x="50.9" y="143.50" font-size="11.6" text-anchor="end" font-family="Liberation Serif, serif">-2</text>
<text x="41.80" y="150.70" font-size="13.9" text-anchor="end" font-family="Liberation Serif, serif" >10</text>
<text x="50.9" y="119.20" font-size="11.6" text-anchor="end" font-family="Liberation Serif, serif">-1</text>
<text x="41.80" y="126.40" font-size="13.9" text-anchor="end" font-family="Liberation Serif, serif" >10</text>
<text x="46.0" y="93.60" font-size="12.3" font-family="Liberation Serif, serif">0</text>
<text x="46.30" y="102.10" font-size="13.9" text-anchor="end" font-family="Liberation Serif, serif" >10</text>
<text x="46.0" y="69.30" font-size="12.3" font-family="Liberation Serif, serif">1</text>
<text x="46.30" y="77.80" font-size="13.9" text-anchor="end" font-family="Liberation Serif, serif" >10</text>
<text x="46.0" y="45.00" font-size="12.3" font-family="Liberation Serif, serif">2</text>
<text x="46.30" y="53.50" font-size="13.9" text-anchor="end" font-family="Liberation Serif, serif" >10</text>
<text x="46.0" y="20.70" font-size="12.3" font-family="Liberation Serif, serif">3</text>
<text x="46.30" y="29.20" font-size="13.9" text-anchor="end" font-family="Liberation Serif, serif" >10</text>
<circle cx="74.0" cy="155.1" r="3.0" fill="#0000FF"/>
<rect x="71.2" y="164.7" width="5.6" height="5.6" fill="#008B00"/>
<polygon points="74.0,176.3 77.5,179.9 74.0,183.5 70.6,179.9" fill="#00FF00"/>
<circle cx="74.1" cy="192.2" r="2.55" fill="none" stroke="#7A1A5E" stroke-width="1.0"/>
<rect x="71.65" y="202.57" width="4.7" height="4.1" fill="none" stroke="#FF0000" stroke-width="1.15"/>
<polygon points="74.0,214.3 76.8,217.0 74.0,219.7 71.3,217.0" fill="none" stroke="#7A1A5E" stroke-width="1.0"/>
<text x="83.50" y="158.40" font-size="9.67" font-family="Liberation Serif, serif" xml:space="preserve" textLength="76.6" lengthAdjust="spacing">STAR,  0-5% centr</text>
<text x="83.50" y="170.78" font-size="9.67" font-family="Liberation Serif, serif" xml:space="preserve" textLength="83.3" lengthAdjust="spacing">STAR, 10-20% centr</text>
<text x="83.50" y="183.16" font-size="9.67" font-family="Liberation Serif, serif" xml:space="preserve" textLength="83.3" lengthAdjust="spacing">STAR, 30-50% centr</text>
<text x="83.50" y="195.54" font-size="9.67" font-family="Liberation Serif, serif" xml:space="preserve" textLength="87.0" lengthAdjust="spacing">PHENIX,  0-5% centr</text>
<text x="83.50" y="207.92" font-size="9.67" font-family="Liberation Serif, serif" xml:space="preserve" textLength="94.0" lengthAdjust="spacing">PHENIX, 10-20% centr</text>
<text x="83.50" y="220.30" font-size="9.67" font-family="Liberation Serif, serif" xml:space="preserve" textLength="94.0" lengthAdjust="spacing">PHENIX, 30-50% centr</text>
<line x1="161.20" y1="24.90" x2="179.00" y2="24.90" stroke="#222" stroke-width="1.6"/>
<text x="185.00" y="27.60" font-size="9.67" font-family="Liberation Serif, serif" xml:space="preserve" textLength="63.6" lengthAdjust="spacing">Granular Source</text>
<polygon points="163.0,34.3 166.1,39.9 159.9,39.9" fill="#8A00D4"/>
<text x="171.30" y="40.60" font-size="9.67" font-family="Liberation Serif, serif" xml:space="preserve" textLength="87.7" lengthAdjust="spacing">ALICE, 10-20% centr</text>
<polygon points="162.5,53.9 165.6,48.1 159.4,48.1" fill="#FF00FF"/>
<text x="171.30" y="53.60" font-size="9.67" font-family="Liberation Serif, serif" xml:space="preserve" textLength="87.7" lengthAdjust="spacing">ALICE, 40-50% centr</text>
<line x1="373.30" y1="18.40" x2="390.20" y2="18.40" stroke="#FFA000" stroke-width="1.5"/>
<text x="396.30" y="21.40" font-size="9.05" font-family="Liberation Serif, serif" xml:space="preserve" textLength="81.9" lengthAdjust="spacing">Granu Source (STAR)</text>
<line x1="373.30" y1="32.80" x2="390.20" y2="32.80" stroke="#222" stroke-width="1.7"/>
<text x="396.30" y="35.90" font-size="9.05" font-family="Liberation Serif, serif" xml:space="preserve" textLength="84.8" lengthAdjust="spacing">Granu Source (ALICE)</text>
<circle cx="456.0" cy="159.6" r="3.05" fill="#0000FF"/>
<rect x="453.1" y="169.4" width="5.6" height="5.6" fill="#008B00"/>
<polygon points="456.0,180.9 459.4,184.5 456.0,188.1 452.6,184.5" fill="#00FF00"/>
<polygon points="455.9,193.3 459.0,198.8 452.8,198.8" fill="#6A16C8"/>
<polygon points="455.9,212.7 459.0,206.8 452.8,206.8" fill="#FF00FF"/>
<text x="467.60" y="162.90" font-size="9.67" font-family="Liberation Serif, serif" xml:space="preserve" textLength="77.5" lengthAdjust="spacing">STAR,  0-5% centr</text>
<text x="467.60" y="175.20" font-size="9.67" font-family="Liberation Serif, serif" xml:space="preserve" textLength="84.2" lengthAdjust="spacing">STAR, 10-20% centr</text>
<text x="467.60" y="187.50" font-size="9.67" font-family="Liberation Serif, serif" xml:space="preserve" textLength="84.2" lengthAdjust="spacing">STAR, 30-50% centr</text>
<text x="467.60" y="199.70" font-size="9.67" font-family="Liberation Serif, serif" xml:space="preserve" textLength="87.4" lengthAdjust="spacing">ALICE, 10-20% centr</text>
<text x="467.60" y="212.00" font-size="9.67" font-family="Liberation Serif, serif" xml:space="preserve" textLength="87.4" lengthAdjust="spacing">ALICE, 40-50% centr</text>
<text x="128.20" y="275.3" font-size="19" font-family="Liberation Serif, serif" font-style="italic">p</text>
<text x="136.30" y="280.5" font-size="12.5" font-family="Liberation Serif, serif" font-style="italic">T</text>
<text x="147.40" y="276.4" font-size="15" font-family="Liberation Sans, sans-serif">(GeV/c)</text>
<text x="432.30" y="275.3" font-size="19" font-family="Liberation Serif, serif" font-style="italic">p</text>
<text x="440.40" y="280.5" font-size="12.5" font-family="Liberation Serif, serif" font-style="italic">T</text>
<text x="451.50" y="276.4" font-size="15" font-family="Liberation Sans, sans-serif">(GeV/c)</text>
<text transform="translate(322.80,130.30) rotate(-90)" font-size="22" font-family="Liberation Serif, serif" font-style="italic">v</text>
<text transform="translate(326.00,121.65) rotate(-90)" font-size="12.7" font-family="Liberation Serif, serif" font-style="italic">2</text>
<text transform="translate(18.10,215.70) rotate(-90)" font-size="17.5" font-family="Liberation Serif, serif" font-style="italic">d</text>
<text transform="translate(9.00,206.10) rotate(-90)" font-size="12" font-family="Liberation Serif, serif" font-style="italic">2</text>
<text transform="translate(18.10,203.90) rotate(-90)" font-size="17.5" font-family="Liberation Serif, serif" font-style="italic">N</text>
<line x1="18.70" y1="191.30" x2="6.80" y2="181.30" stroke="#000" stroke-width="1.15"/>
<text transform="translate(18.10,181.95) rotate(-90)" font-size="17.5" font-family="Liberation Serif, serif" font-style="italic">(</text>
<text transform="translate(18.10,175.20) rotate(-90)" font-size="17.5" font-family="Liberation Serif, serif" font-style="italic">2</text>
<text transform="translate(18.10,169.50) rotate(-90)" font-size="18" font-family="Liberation Serif, serif" font-style="normal">π</text>
<text transform="translate(18.10,158.80) rotate(-90)" font-size="17.5" font-family="Liberation Serif, serif" font-style="italic">p</text>
<text transform="translate(21.80,151.60) rotate(-90)" font-size="10.5" font-family="Liberation Serif, serif" font-style="italic">T</text>
<text transform="translate(18.10,143.30) rotate(-90)" font-size="17.5" font-family="Liberation Serif, serif" font-style="italic">d</text>
<text transform="translate(18.10,133.55) rotate(-90)" font-size="17.5" font-family="Liberation Serif, serif" font-style="italic">p</text>
<text transform="translate(21.80,126.00) rotate(-90)" font-size="10.5" font-family="Liberation Serif, serif" font-style="italic">T</text>
<text transform="translate(18.10,118.30) rotate(-90)" font-size="17.5" font-family="Liberation Serif, serif" font-style="italic">d</text>
<text transform="translate(18.10,109.70) rotate(-90)" font-size="17.5" font-family="Liberation Serif, serif" font-style="italic">y</text>
<text transform="translate(18.10,102.40) rotate(-90)" font-size="17.5" font-family="Liberation Serif, serif" font-style="italic">)</text>
<text transform="translate(18.10,93.80) rotate(-90)" font-size="15" font-family="Liberation Sans, sans-serif" font-style="normal">(GeV/c)</text>
<text transform="translate(8.70,42.65) rotate(-90)" font-size="10.5" font-family="Liberation Sans, sans-serif" font-style="normal">−</text>
<text transform="translate(9.00,35.95) rotate(-90)" font-size="11" font-family="Liberation Sans, sans-serif" font-style="normal">2</text>
</svg>
</body></html>
